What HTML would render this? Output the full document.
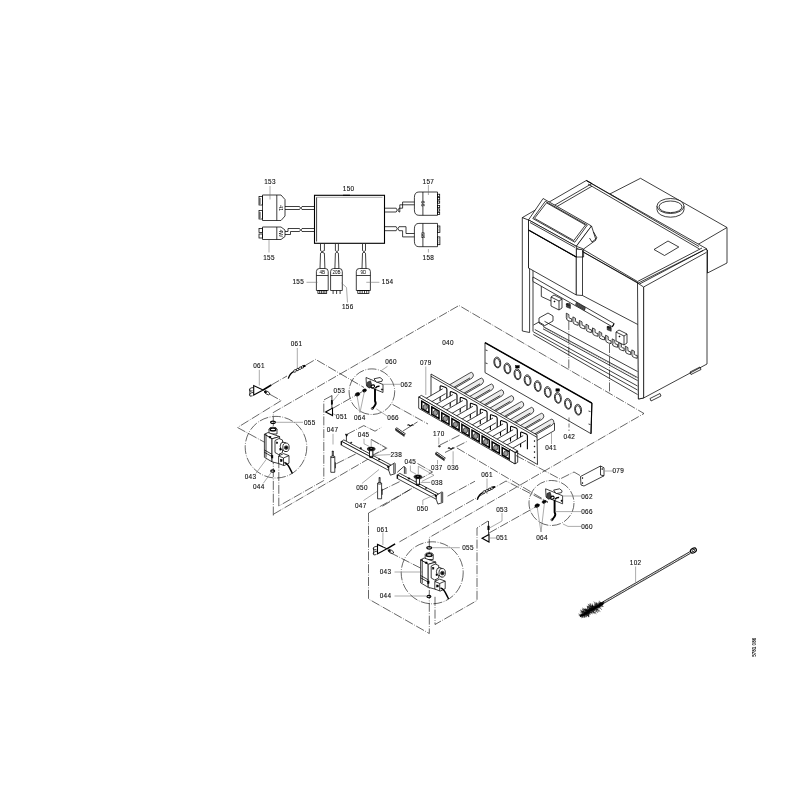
<!DOCTYPE html>
<html><head><meta charset="utf-8"><style>
html,body{margin:0;padding:0;background:#fff;width:800px;height:800px;overflow:hidden}
svg{display:block;will-change:transform}
.s{fill:none;stroke:#000;stroke-width:.75}
.s2{fill:none;stroke:#000;stroke-width:1.1}
.s3{fill:none;stroke:#000;stroke-width:1.5}
.sf{fill:#fff;stroke:#000;stroke-width:.75}
.sg{fill:none;stroke:#666;stroke-width:.55}
.k{fill:#000;stroke:#000;stroke-width:.5}
.tb{fill:#ececec;stroke:#000;stroke-width:.7}
.wf{fill:#fff;stroke:#000;stroke-width:1.1}
.ig{fill:#999;stroke:#000;stroke-width:.6}
.kg{fill:#444;stroke:#000;stroke-width:.5}
.d{fill:none;stroke:#000;stroke-width:.6;stroke-dasharray:9 1.5 .8 1.5}
.d2{fill:none;stroke:#000;stroke-width:.55;stroke-dasharray:4 2}
.t{font-family:"Liberation Sans",sans-serif;font-size:6.4px;letter-spacing:.35px;fill:#111;stroke:#111;stroke-width:.12px}
.ts{font-family:"Liberation Sans",sans-serif;font-size:4.5px;fill:#000}
</style></head><body>
<svg width="800" height="800" viewBox="0 0 800 800">
<path d="M273.3,515.5 L273.3,412.5 L459.0,305.5 L644.0,413.5 L429.3,537.5 L429.3,633.5" class="d"/>
<path d="M568.8,321.0 L568.8,368.5" class="d"/>
<path d="M609.5,344.0 L609.5,393.0" class="d"/>
<path d="M271.3,385.0 L287.0,376.0" class="d"/>
<path d="M306.0,365.0 L315.6,359.4 L364.0,387.5" class="d"/>
<path d="M392.5,404.4 L428.0,424.0" class="d"/>
<path d="M331.9,408.8 L366.0,389.5" class="d"/>
<path d="M331.9,395.6 L323.8,400.0 L323.8,480.5 L278.8,506.0 L278.8,464.0" class="d"/>
<path d="M273.5,514.2 L370.0,458.0" class="d"/>
<path d="M270.0,394.4 L281.2,400.6 L237.5,427.5 L265.0,442.5" class="d"/>
<path d="M368.5,513.0 L368.5,599.0 L429.3,633.5" class="d"/>
<path d="M368.5,513.0 L413.8,487.5" class="d"/>
<path d="M435.0,596.8 L435.0,624.5 L477.0,600.5 L477.0,528.0 L488.0,521.0" class="d"/>
<path d="M390.0,552.5 L420.8,568.2" class="d"/>
<path d="M399.4,541.9 L506.0,481.0 L548.0,502.5" class="d"/>
<path d="M489.0,533.0 L540.0,504.5" class="d"/>
<path d="M457.0,448.0 L548.0,502.0" class="d"/>
<path d="M516.0,455.5 L560.0,479.0 L574.0,472.0 L580.0,475.5" class="d"/>
<path d="M447.5,496.2 L475.0,481.2" class="d"/>
<path d="M380.0,491.2 L401.0,481.0" class="d"/>
<path d="M382.5,506.2 L411.2,488.8" class="d"/>
<path d="M440.0,445.0 L460.0,435.0" class="d"/>
<path d="M445.0,452.5 L467.5,441.2" class="d"/>
<path d="M403.0,431.0 L417.5,421.9" class="d"/>
<path d="M336.2,463.8 L361.2,451.2" class="d"/>
<path d="M346.9,434.4 L363.8,425.6 L375.0,431.2 L381.2,427.5" class="d"/>
<path d="M371.2,439.4 L386.2,448.1 L373.0,455.0" class="d"/>
<path d="M417.5,463.5 L432.5,472.0 L420.0,479.0" class="d"/>
<rect x="314.5" y="195.3" width="70.0" height="48.0" rx="0" class="s2"/>
<line x1="316.6" y1="197.3" x2="316.6" y2="241.5" class="s"/>
<line x1="316.6" y1="197.3" x2="382.5" y2="197.3" class="sg"/>
<line x1="343.0" y1="195.3" x2="350.0" y2="195.3" class="s2"/>
<text x="348.6" y="191.4" class="t" text-anchor="middle">150</text>
<path d="M262.5,195.0 L281.0,195.0 L285.0,199.5 L285.0,216.0 L281.0,220.5 L262.5,220.5 Z" class="s"/>
<line x1="276.8" y1="195.0" x2="276.8" y2="220.5" class="s"/>
<rect x="259.0" y="196.5" width="3.5" height="8.5" rx="0" class="s"/>
<rect x="259.0" y="210.5" width="3.5" height="8.5" rx="0" class="s"/>
<line x1="260.0" y1="198.0" x2="260.0" y2="204.0" class="s"/>
<line x1="260.0" y1="212.0" x2="260.0" y2="218.0" class="s"/>
<text x="0" y="0" class="ts" style="font-size:5.6px" transform="translate(279,208) rotate(90)" text-anchor="middle">41</text>
<path d="M285.0,206.5 L299.5,206.5" class="s"/>
<path d="M285.0,209.5 L299.5,209.5" class="s"/>
<path d="M299.5,206.5 L300.5,208.0 L299.5,209.5" class="s"/>
<path d="M302.0,206.5 L301.0,208.0 L302.0,209.5" class="s"/>
<path d="M302.0,206.5 L314.5,206.5" class="s"/>
<path d="M302.0,209.5 L314.5,209.5" class="s"/>
<text x="270.0" y="184.1" class="t" text-anchor="middle">153</text>
<line x1="270.0" y1="186.0" x2="270.0" y2="199.5" class="sg"/>
<path d="M262.5,227.0 L281.0,227.0 L285.0,230.0 L285.0,236.5 L281.0,239.5 L262.5,239.5 Z" class="s"/>
<line x1="276.8" y1="227.0" x2="276.8" y2="239.5" class="s"/>
<rect x="259.0" y="228.5" width="3.5" height="4.0" rx="0" class="s"/>
<rect x="259.0" y="234.0" width="3.5" height="4.0" rx="0" class="s"/>
<text x="0" y="0" class="ts" style="font-size:5.2px" transform="translate(279,233.3) rotate(90)" text-anchor="middle">4W</text>
<path d="M285.0,231.5 L288.0,231.5 L288.0,228.5 L299.5,228.5" class="s"/>
<path d="M285.0,234.5 L290.5,234.5 L290.5,231.5 L299.5,231.5" class="s"/>
<path d="M302.0,228.5 L314.5,228.5" class="s"/>
<path d="M302.0,231.5 L314.5,231.5" class="s"/>
<path d="M299.5,228.5 L300.5,230.0 L299.5,231.5" class="s"/>
<path d="M302.0,228.5 L301.0,230.0 L302.0,231.5" class="s"/>
<text x="269.0" y="259.6" class="t" text-anchor="middle">155</text>
<line x1="269.0" y1="240.0" x2="269.0" y2="252.5" class="sg"/>
<path d="M437.5,192.0 L418.9,192.0 Q414.4,192.0 414.4,197.5 L414.4,209.8 Q414.4,215.3 418.9,215.3 L437.5,215.3 Z" class="sf"/>
<line x1="422.9" y1="192.0" x2="422.9" y2="215.3" class="s"/>
<text x="0" y="0" class="ts" style="font-size:5.6px" transform="translate(420.6,203.6) rotate(90)" text-anchor="middle">66</text>
<text x="428.4" y="183.6" class="t" text-anchor="middle">157</text>
<line x1="428.4" y1="185.0" x2="428.4" y2="195.0" class="sg"/>
<path d="M437.5,223.4 L418.9,223.4 Q414.4,223.4 414.4,228.9 L414.4,241.2 Q414.4,246.7 418.9,246.7 L437.5,246.7 Z" class="sf"/>
<line x1="422.9" y1="223.4" x2="422.9" y2="246.7" class="s"/>
<text x="0" y="0" class="ts" style="font-size:5.6px" transform="translate(420.6,235.0) rotate(90)" text-anchor="middle">68</text>
<text x="428.4" y="259.6" class="t" text-anchor="middle">158</text>
<line x1="428.4" y1="249.0" x2="428.4" y2="252.5" class="sg"/>
<rect x="437.5" y="194.2" width="2.2" height="2.2" rx="0" class="s"/>
<rect x="437.5" y="197.6" width="2.2" height="2.2" rx="0" class="s"/>
<rect x="437.5" y="201.0" width="2.2" height="2.2" rx="0" class="s"/>
<rect x="437.5" y="205.5" width="2.2" height="2.2" rx="0" class="s"/>
<rect x="437.5" y="208.9" width="2.2" height="2.2" rx="0" class="s"/>
<rect x="437.5" y="212.3" width="2.2" height="2.2" rx="0" class="s"/>
<rect x="437.5" y="226.0" width="2.4" height="6.4" rx="0" class="s"/>
<line x1="437.5" y1="227.6" x2="439.9" y2="227.6" class="sg"/>
<line x1="437.5" y1="229.2" x2="439.9" y2="229.2" class="sg"/>
<line x1="437.5" y1="230.8" x2="439.9" y2="230.8" class="sg"/>
<rect x="437.5" y="236.9" width="2.4" height="7.8" rx="0" class="s"/>
<line x1="437.5" y1="238.8" x2="439.9" y2="238.8" class="sg"/>
<line x1="437.5" y1="240.8" x2="439.9" y2="240.8" class="sg"/>
<line x1="437.5" y1="242.8" x2="439.9" y2="242.8" class="sg"/>
<path d="M384.6,208.2 L396.2,208.2" class="s"/>
<path d="M384.6,212.0 L396.2,212.0" class="s"/>
<path d="M396.2,208.2 L397.2,210.1 L396.2,212.0" class="s"/>
<path d="M399.0,208.2 L398.0,210.1 L399.0,212.0" class="s"/>
<path d="M399.0,212.0 L399.8,212.0 L399.8,204.8 L414.4,204.8" class="s"/>
<path d="M399.0,208.2 L402.6,208.2 L402.6,202.0 L414.4,202.0" class="s"/>
<path d="M384.6,226.7 L396.2,226.7" class="s"/>
<path d="M384.6,230.7 L396.2,230.7" class="s"/>
<path d="M396.2,226.7 L397.2,228.7 L396.2,230.7" class="s"/>
<path d="M399.0,226.7 L398.0,228.7 L399.0,230.7" class="s"/>
<path d="M399.0,226.7 L406.0,226.7 L406.0,233.5 L414.4,233.5" class="s"/>
<path d="M399.0,230.7 L402.6,230.7 L402.6,236.9 L414.4,236.9" class="s"/>
<line x1="320.5" y1="244.0" x2="320.5" y2="250.6" class="s"/>
<line x1="324.4" y1="244.0" x2="324.4" y2="250.6" class="s"/>
<path d="M320.5,250.6 L322.0,251.6 L324.4,250.6" class="s"/>
<path d="M320.5,253.2 L322.0,252.2 L324.4,253.2" class="s"/>
<line x1="320.5" y1="253.2" x2="320.0" y2="268.5" class="s"/>
<line x1="324.4" y1="253.2" x2="324.9" y2="268.5" class="s"/>
<line x1="335.4" y1="244.0" x2="335.4" y2="250.6" class="s"/>
<line x1="338.4" y1="244.0" x2="338.4" y2="250.6" class="s"/>
<path d="M335.4,250.6 L336.9,251.6 L338.4,250.6" class="s"/>
<path d="M335.4,253.2 L336.9,252.2 L338.4,253.2" class="s"/>
<line x1="335.4" y1="253.2" x2="334.9" y2="268.5" class="s"/>
<line x1="338.4" y1="253.2" x2="338.9" y2="268.5" class="s"/>
<line x1="362.5" y1="244.0" x2="362.5" y2="250.6" class="s"/>
<line x1="365.5" y1="244.0" x2="365.5" y2="250.6" class="s"/>
<path d="M362.5,250.6 L364.0,251.6 L365.5,250.6" class="s"/>
<path d="M362.5,253.2 L364.0,252.2 L365.5,253.2" class="s"/>
<line x1="362.5" y1="253.2" x2="362.0" y2="268.5" class="s"/>
<line x1="365.5" y1="253.2" x2="366.0" y2="268.5" class="s"/>
<path d="M316.4,290.5 L316.4,271.5 Q316.4,268.5 319.4,268.5 L325.2,268.5 Q328.2,268.5 328.2,271.5 L328.2,290.5 Z" class="s"/>
<line x1="316.4" y1="275.5" x2="328.2" y2="275.5" class="s"/>
<text x="322.3" y="273.5" class="ts" text-anchor="middle">4B</text>
<rect x="317.9" y="290.5" width="8.8" height="3.0" rx="0" class="s"/>
<line x1="319.7" y1="290.5" x2="319.7" y2="293.5" class="s"/>
<line x1="321.4" y1="290.5" x2="321.4" y2="293.5" class="s"/>
<line x1="323.2" y1="290.5" x2="323.2" y2="293.5" class="s"/>
<line x1="324.9" y1="290.5" x2="324.9" y2="293.5" class="s"/>
<path d="M330.6,290.5 L330.6,271.5 Q330.6,268.5 333.6,268.5 L339.3,268.5 Q342.3,268.5 342.3,271.5 L342.3,290.5 Z" class="s"/>
<line x1="330.6" y1="275.5" x2="342.3" y2="275.5" class="s"/>
<text x="336.5" y="273.5" class="ts" text-anchor="middle">20B</text>
<line x1="333.1" y1="290.5" x2="333.1" y2="294.0" class="s"/>
<line x1="336.6" y1="290.5" x2="336.6" y2="294.0" class="s"/>
<line x1="340.1" y1="290.5" x2="340.1" y2="294.0" class="s"/>
<path d="M356.3,290.5 L356.3,271.5 Q356.3,268.5 359.3,268.5 L367.4,268.5 Q370.4,268.5 370.4,271.5 L370.4,290.5 Z" class="s"/>
<line x1="356.3" y1="275.5" x2="370.4" y2="275.5" class="s"/>
<text x="363.4" y="273.5" class="ts" text-anchor="middle">9D</text>
<rect x="357.8" y="290.5" width="11.1" height="3.0" rx="0" class="s"/>
<line x1="360.0" y1="290.5" x2="360.0" y2="293.5" class="s"/>
<line x1="362.2" y1="290.5" x2="362.2" y2="293.5" class="s"/>
<line x1="364.5" y1="290.5" x2="364.5" y2="293.5" class="s"/>
<line x1="366.7" y1="290.5" x2="366.7" y2="293.5" class="s"/>
<text x="298.3" y="284.4" class="t" text-anchor="middle">155</text>
<line x1="306.5" y1="282.3" x2="317.5" y2="282.3" class="sg"/>
<text x="387.6" y="284.4" class="t" text-anchor="middle">154</text>
<line x1="366.3" y1="282.3" x2="379.4" y2="282.3" class="sg"/>
<text x="347.8" y="309.1" class="t" text-anchor="middle">156</text>
<path d="M341.5,283.0 L346.5,287.5 L347.5,302.5" class="sg"/>
<path d="M640.5,178.3 L727.0,227.5 L727.0,263.0 L707.5,273.0 L707.5,250.0 L697.0,245.0 L609.8,194.0 Z" class="sf"/>
<line x1="697.0" y1="245.0" x2="727.0" y2="227.5" class="s"/>
<path d="M657,206 L657,209.7 A13.5,7.5 0 0 0 684,209.7 L684,206" class="sf"/>
<ellipse cx="670.5" cy="206.0" rx="13.5" ry="7.5" transform="rotate(0 670.5 206.0)" class="sf"/>
<ellipse cx="670.5" cy="206.8" rx="11.5" ry="5.8" transform="rotate(0 670.5 206.8)" class="s"/>
<path d="M522.3,217.6 L586.3,180.5 L707.0,249.0 L643.6,287.0 L638.4,283.0 Z" class="sf"/>
<line x1="586.3" y1="180.5" x2="699.0" y2="246.5" class="s"/>
<line x1="588.0" y1="184.0" x2="699.5" y2="249.0" class="s"/>
<line x1="586.3" y1="180.5" x2="592.0" y2="183.5" class="s"/>
<line x1="592.0" y1="183.5" x2="548.0" y2="209.0" class="s"/>
<line x1="592.0" y1="186.2" x2="553.0" y2="208.8" class="s"/>
<path d="M654.0,249.5 L668.0,241.0 L678.8,247.0 L664.5,255.5 Z" class="s"/>
<path d="M638.4,283.0 L706.0,249.0 L707.0,250.0 L707.0,364.0 L643.6,398.0 L638.4,399.0 Z" class="sf"/>
<line x1="643.6" y1="287.0" x2="706.4" y2="252.4" class="s"/>
<line x1="643.6" y1="287.0" x2="643.6" y2="398.0" class="s"/>
<line x1="637.5" y1="281.5" x2="702.0" y2="248.0" class="s"/>
<line x1="639.0" y1="284.3" x2="703.0" y2="250.5" class="s"/>
<path d="M650.0,398.5 L660.0,393.5 L661.0,396.0 L651.0,401.0 Z" class="s"/>
<path d="M690.0,372.0 L700.0,367.0 L701.0,369.5 L691.0,374.5 Z" class="s"/>
<line x1="583.6" y1="249.7" x2="637.5" y2="281.5" class="s"/>
<line x1="583.6" y1="252.3" x2="638.4" y2="283.5" class="s"/>
<path d="M522.3,217.6 L528.5,220.0 L528.5,268.0 L529.6,268.5 L529.6,332.5 L522.3,331.0 Z" class="sf"/>
<line x1="533.0" y1="270.0" x2="533.0" y2="331.5" class="s"/>
<path d="M528.5,230.0 L576.3,257.0 L576.3,295.0 L528.5,268.0 Z" class="sf"/>
<path d="M576.3,249.0 L582.5,249.7 L582.5,295.5 L576.3,295.0 Z" class="sf"/>
<line x1="582.5" y1="295.5" x2="637.8" y2="324.5" class="s"/>
<path d="M543.1,198.5 L591.5,226.0 L576.3,246.3 L528.5,219.9 Z" class="sf"/>
<path d="M545.3,201.3 L587.3,225.1 L574.8,242.2 L532.8,218.5 Z" class="s"/>
<path d="M546.5,202.8 L585.5,225.0 L573.8,240.5 L534.5,218.3 Z" class="s"/>
<path d="M528.5,219.9 L576.3,246.3 L576.3,257.0 L528.5,230.0 Z" class="sf"/>
<line x1="528.5" y1="230.0" x2="576.3" y2="257.0" class="s2"/>
<line x1="530.0" y1="222.5" x2="575.0" y2="247.5" class="s"/>
<path d="M591.5,226.0 L596.0,240.0 L583.6,249.0 L576.3,246.3 Z" class="sf"/>
<path d="M593.5,232.0 L597.0,238.0 L592.0,242.0 L589.5,238.0" class="s"/>
<line x1="583.6" y1="249.0" x2="583.6" y2="257.0" class="s"/>
<line x1="576.3" y1="257.0" x2="583.6" y2="257.0" class="s"/>
<path d="M541.3,286.0 L541.3,296.5 L551.0,301.0" class="s"/>
<line x1="544.5" y1="321.3" x2="637.5" y2="371.5" class="s"/>
<line x1="543.0" y1="326.5" x2="637.5" y2="377.5" class="s"/>
<line x1="543.0" y1="328.8" x2="637.5" y2="380.5" class="s"/>
<line x1="534.8" y1="329.5" x2="637.5" y2="386.0" class="s"/>
<line x1="533.3" y1="331.8" x2="637.5" y2="390.0" class="s"/>
<line x1="533.3" y1="334.5" x2="637.5" y2="394.5" class="s"/>
<line x1="545.0" y1="327.9" x2="546.0" y2="329.5" class="sg"/>
<line x1="547.3" y1="329.1" x2="548.3" y2="330.7" class="sg"/>
<line x1="549.6" y1="330.4" x2="550.6" y2="332.0" class="sg"/>
<line x1="551.9" y1="331.6" x2="552.9" y2="333.2" class="sg"/>
<line x1="554.2" y1="332.8" x2="555.2" y2="334.4" class="sg"/>
<line x1="556.5" y1="334.1" x2="557.5" y2="335.7" class="sg"/>
<line x1="558.8" y1="335.3" x2="559.8" y2="336.9" class="sg"/>
<line x1="561.1" y1="336.6" x2="562.1" y2="338.2" class="sg"/>
<line x1="563.4" y1="337.8" x2="564.4" y2="339.4" class="sg"/>
<line x1="565.7" y1="339.1" x2="566.7" y2="340.7" class="sg"/>
<line x1="568.0" y1="340.3" x2="569.0" y2="341.9" class="sg"/>
<line x1="570.3" y1="341.5" x2="571.3" y2="343.1" class="sg"/>
<line x1="572.6" y1="342.8" x2="573.6" y2="344.4" class="sg"/>
<line x1="574.9" y1="344.0" x2="575.9" y2="345.6" class="sg"/>
<line x1="577.2" y1="345.3" x2="578.2" y2="346.9" class="sg"/>
<line x1="579.5" y1="346.5" x2="580.5" y2="348.1" class="sg"/>
<line x1="581.8" y1="347.8" x2="582.8" y2="349.4" class="sg"/>
<line x1="584.1" y1="349.0" x2="585.1" y2="350.6" class="sg"/>
<line x1="586.4" y1="350.2" x2="587.4" y2="351.8" class="sg"/>
<line x1="588.7" y1="351.5" x2="589.7" y2="353.1" class="sg"/>
<line x1="591.0" y1="352.7" x2="592.0" y2="354.3" class="sg"/>
<line x1="593.3" y1="354.0" x2="594.3" y2="355.6" class="sg"/>
<line x1="595.6" y1="355.2" x2="596.6" y2="356.8" class="sg"/>
<line x1="597.9" y1="356.4" x2="598.9" y2="358.0" class="sg"/>
<line x1="600.2" y1="357.7" x2="601.2" y2="359.3" class="sg"/>
<line x1="602.5" y1="358.9" x2="603.5" y2="360.5" class="sg"/>
<line x1="604.8" y1="360.2" x2="605.8" y2="361.8" class="sg"/>
<line x1="607.1" y1="361.4" x2="608.1" y2="363.0" class="sg"/>
<line x1="609.4" y1="362.7" x2="610.4" y2="364.3" class="sg"/>
<line x1="611.7" y1="363.9" x2="612.7" y2="365.5" class="sg"/>
<line x1="614.0" y1="365.1" x2="615.0" y2="366.7" class="sg"/>
<line x1="616.3" y1="366.4" x2="617.3" y2="368.0" class="sg"/>
<line x1="618.6" y1="367.6" x2="619.6" y2="369.2" class="sg"/>
<line x1="620.9" y1="368.9" x2="621.9" y2="370.5" class="sg"/>
<line x1="623.2" y1="370.1" x2="624.2" y2="371.7" class="sg"/>
<line x1="625.5" y1="371.4" x2="626.5" y2="372.9" class="sg"/>
<line x1="627.8" y1="372.6" x2="628.8" y2="374.2" class="sg"/>
<line x1="630.1" y1="373.8" x2="631.1" y2="375.4" class="sg"/>
<line x1="632.4" y1="375.1" x2="633.4" y2="376.7" class="sg"/>
<line x1="634.7" y1="376.3" x2="635.7" y2="377.9" class="sg"/>
<path d="M539.0,318.0 L548.0,313.0 L553.0,316.0 L553.0,321.0 L544.0,326.0 L539.0,323.0 Z" class="s"/>
<path d="M533.5,325.0 L539.0,322.0 L544.0,325.0" class="s"/>
<path d="M566.3,313.2 L566.3,317.8 Q566.3,320.4 569.2,321.0 L571.7,321.6 L571.7,318.8 L569.9,318.4 Q568.9,318.2 568.9,316.8 L568.9,314.6 Z" class="sf"/>
<line x1="567.6" y1="314.2" x2="567.6" y2="318.7" class="sg"/>
<path d="M572.9,316.9 L572.9,321.5 Q572.9,324.1 575.8,324.7 L578.2,325.3 L578.2,322.5 L576.5,322.1 Q575.5,321.9 575.5,320.5 L575.5,318.3 Z" class="sf"/>
<line x1="574.1" y1="317.9" x2="574.1" y2="322.4" class="sg"/>
<path d="M579.4,320.5 L579.4,325.1 Q579.4,327.7 582.3,328.3 L584.8,328.9 L584.8,326.1 L583.0,325.7 Q582.0,325.5 582.0,324.1 L582.0,321.9 Z" class="sf"/>
<line x1="580.7" y1="321.5" x2="580.7" y2="326.0" class="sg"/>
<path d="M586.0,324.2 L586.0,328.8 Q586.0,331.4 588.9,332.0 L591.4,332.6 L591.4,329.8 L589.6,329.4 Q588.6,329.2 588.6,327.8 L588.6,325.6 Z" class="sf"/>
<line x1="587.2" y1="325.2" x2="587.2" y2="329.7" class="sg"/>
<path d="M592.5,327.9 L592.5,332.5 Q592.5,335.1 595.4,335.7 L597.9,336.3 L597.9,333.5 L596.1,333.1 Q595.1,332.9 595.1,331.5 L595.1,329.3 Z" class="sf"/>
<line x1="593.8" y1="328.9" x2="593.8" y2="333.4" class="sg"/>
<path d="M599.1,331.5 L599.1,336.1 Q599.1,338.7 602.0,339.3 L604.5,339.9 L604.5,337.1 L602.7,336.7 Q601.7,336.5 601.7,335.1 L601.7,332.9 Z" class="sf"/>
<line x1="600.4" y1="332.5" x2="600.4" y2="337.0" class="sg"/>
<path d="M605.6,335.2 L605.6,339.8 Q605.6,342.4 608.5,343.0 L611.0,343.6 L611.0,340.8 L609.2,340.4 Q608.2,340.2 608.2,338.8 L608.2,336.6 Z" class="sf"/>
<line x1="606.9" y1="336.2" x2="606.9" y2="340.7" class="sg"/>
<path d="M612.2,338.9 L612.2,343.5 Q612.2,346.1 615.1,346.7 L617.6,347.3 L617.6,344.5 L615.8,344.1 Q614.8,343.9 614.8,342.5 L614.8,340.3 Z" class="sf"/>
<line x1="613.5" y1="339.9" x2="613.5" y2="344.4" class="sg"/>
<path d="M618.7,342.5 L618.7,347.1 Q618.7,349.7 621.6,350.3 L624.1,350.9 L624.1,348.1 L622.3,347.7 Q621.3,347.5 621.3,346.1 L621.3,343.9 Z" class="sf"/>
<line x1="620.0" y1="343.5" x2="620.0" y2="348.0" class="sg"/>
<path d="M625.3,346.2 L625.3,350.8 Q625.3,353.4 628.2,354.0 L630.7,354.6 L630.7,351.8 L628.9,351.4 Q627.9,351.2 627.9,349.8 L627.9,347.6 Z" class="sf"/>
<line x1="626.6" y1="347.2" x2="626.6" y2="351.7" class="sg"/>
<path d="M631.8,349.9 L631.8,354.5 Q631.8,357.1 634.7,357.7 L637.2,358.3 L637.2,355.5 L635.4,355.1 Q634.4,354.9 634.4,353.5 L634.4,351.3 Z" class="sf"/>
<line x1="633.1" y1="350.9" x2="633.1" y2="355.4" class="sg"/>
<path d="M533.0,277.0 L614.1,323.6 L612.4,326.8 L533.0,281.5 Z" class="sf"/>
<line x1="612.4" y1="326.8" x2="614.1" y2="323.6" class="s2"/>
<path d="M576.2,302.3 L585.4,307.6 L584.6,310.4 L575.6,305.2 Z" class="kg"/>
<line x1="577.0" y1="302.8" x2="576.2" y2="305.6" class="sg"/>
<line x1="578.8" y1="303.9" x2="578.0" y2="306.7" class="sg"/>
<line x1="580.6" y1="304.9" x2="579.8" y2="307.7" class="sg"/>
<line x1="582.4" y1="305.9" x2="581.6" y2="308.8" class="sg"/>
<line x1="584.2" y1="307.0" x2="583.4" y2="309.8" class="sg"/>
<path d="M566.4,303.5 L570.4,305.0 L570.4,308.5 L566.4,307.0 Z" class="kg"/>
<ellipse cx="568.4" cy="304.3" rx="2.0" ry="0.8" transform="rotate(0 568.4 304.3)" class="s"/>
<path d="M607.2,326.3 L611.2,327.8 L611.2,331.3 L607.2,329.8 Z" class="kg"/>
<ellipse cx="609.2" cy="327.1" rx="2.0" ry="0.8" transform="rotate(0 609.2 327.1)" class="s"/>
<path d="M551.0,297.0 L554.0,295.0 L562.0,299.0 L562.0,308.0 L559.0,310.0 L551.0,306.0 Z" class="sf"/>
<line x1="551.0" y1="297.0" x2="559.0" y2="301.0" class="s"/>
<line x1="559.0" y1="301.0" x2="562.0" y2="299.0" class="s"/>
<line x1="559.0" y1="301.0" x2="559.0" y2="310.0" class="s"/>
<circle cx="554.5" cy="301.5" r="0.6" class="k"/>
<path d="M616.0,332.0 L619.0,330.0 L627.0,334.0 L627.0,343.0 L624.0,345.0 L616.0,341.0 Z" class="sf"/>
<line x1="616.0" y1="332.0" x2="624.0" y2="336.0" class="s"/>
<line x1="624.0" y1="336.0" x2="627.0" y2="334.0" class="s"/>
<line x1="624.0" y1="336.0" x2="624.0" y2="345.0" class="s"/>
<circle cx="619.5" cy="336.5" r="0.6" class="k"/>
<path d="M637.5,283.0 L643.6,287.0 L643.6,398.0 L638.4,399.0 Z" class="sf"/>
<path d="M485.0,342.7 L591.9,403.1 L591.0,433.7 L485.0,372.6 Z" class="sf"/>
<line x1="485.0" y1="342.7" x2="591.9" y2="403.1" class="s3"/>
<line x1="591.9" y1="403.1" x2="591.0" y2="433.7" class="s2"/>
<ellipse cx="497.3" cy="362.5" rx="3.4" ry="5.4" transform="rotate(-8 497.3 362.5)" class="s"/>
<ellipse cx="497.3" cy="362.8" rx="2.5" ry="4.4" transform="rotate(-8 497.3 362.8)" class="s"/>
<ellipse cx="507.4" cy="368.4" rx="3.4" ry="5.4" transform="rotate(-8 507.4 368.4)" class="s"/>
<ellipse cx="507.4" cy="368.7" rx="2.5" ry="4.4" transform="rotate(-8 507.4 368.7)" class="s"/>
<ellipse cx="517.5" cy="374.3" rx="3.4" ry="5.4" transform="rotate(-8 517.5 374.3)" class="s"/>
<ellipse cx="517.5" cy="374.6" rx="2.5" ry="4.4" transform="rotate(-8 517.5 374.6)" class="s"/>
<ellipse cx="527.6" cy="380.2" rx="3.4" ry="5.4" transform="rotate(-8 527.6 380.2)" class="s"/>
<ellipse cx="527.6" cy="380.5" rx="2.5" ry="4.4" transform="rotate(-8 527.6 380.5)" class="s"/>
<ellipse cx="537.7" cy="386.1" rx="3.4" ry="5.4" transform="rotate(-8 537.7 386.1)" class="s"/>
<ellipse cx="537.7" cy="386.4" rx="2.5" ry="4.4" transform="rotate(-8 537.7 386.4)" class="s"/>
<ellipse cx="547.8" cy="392.0" rx="3.4" ry="5.4" transform="rotate(-8 547.8 392.0)" class="s"/>
<ellipse cx="547.8" cy="392.3" rx="2.5" ry="4.4" transform="rotate(-8 547.8 392.3)" class="s"/>
<ellipse cx="557.9" cy="397.9" rx="3.4" ry="5.4" transform="rotate(-8 557.9 397.9)" class="s"/>
<ellipse cx="557.9" cy="398.2" rx="2.5" ry="4.4" transform="rotate(-8 557.9 398.2)" class="s"/>
<ellipse cx="568.0" cy="403.8" rx="3.4" ry="5.4" transform="rotate(-8 568.0 403.8)" class="s"/>
<ellipse cx="568.0" cy="404.1" rx="2.5" ry="4.4" transform="rotate(-8 568.0 404.1)" class="s"/>
<ellipse cx="578.1" cy="409.7" rx="3.4" ry="5.4" transform="rotate(-8 578.1 409.7)" class="s"/>
<ellipse cx="578.1" cy="410.0" rx="2.5" ry="4.4" transform="rotate(-8 578.1 410.0)" class="s"/>
<rect x="515.6" y="365.6" width="3.6" height="2.4" rx="0" class="k"/>
<rect x="555.9" y="388.8" width="3.6" height="2.4" rx="0" class="k"/>
<line x1="485.5" y1="350.0" x2="487.5" y2="350.6" class="s"/>
<line x1="485.5" y1="363.0" x2="487.5" y2="363.6" class="s"/>
<line x1="588.5" y1="411.0" x2="590.5" y2="411.6" class="s"/>
<line x1="588.5" y1="424.0" x2="590.5" y2="424.6" class="s"/>
<text x="569.4" y="439.1" class="t" text-anchor="middle">042</text>
<line x1="569.0" y1="417.5" x2="569.0" y2="431.0" class="d2"/>
<path d="M554.5,423.0 L554.5,430.5 L537.0,440.5" class="s"/>
<path d="M523.9,441.7 L552.4,425.0 A2.8,2.1 -60 0 0 549.6,420.2 L521.1,436.8 Z" class="tb"/>
<line x1="550.5" y1="424.7" x2="525.9" y2="439.1" class="s"/>
<path d="M513.8,435.8 L542.3,419.2 A2.8,2.1 -60 0 0 539.5,414.3 L511.0,431.0 Z" class="tb"/>
<line x1="540.4" y1="418.9" x2="515.8" y2="433.3" class="s"/>
<path d="M503.8,430.0 L532.3,413.3 A2.8,2.1 -60 0 0 529.4,408.5 L500.9,425.1 Z" class="tb"/>
<line x1="530.4" y1="413.0" x2="505.7" y2="427.4" class="s"/>
<path d="M493.7,424.1 L522.2,407.5 A2.8,2.1 -60 0 0 519.4,402.6 L490.9,419.3 Z" class="tb"/>
<line x1="520.3" y1="407.2" x2="495.7" y2="421.6" class="s"/>
<path d="M483.6,418.3 L512.2,401.6 A2.8,2.1 -60 0 0 509.3,396.8 L480.8,413.4 Z" class="tb"/>
<line x1="510.3" y1="401.3" x2="485.6" y2="415.7" class="s"/>
<path d="M473.6,412.4 L502.1,395.8 A2.8,2.1 -60 0 0 499.3,390.9 L470.8,407.6 Z" class="tb"/>
<line x1="500.2" y1="395.5" x2="475.6" y2="409.9" class="s"/>
<path d="M463.5,406.6 L492.0,389.9 A2.8,2.1 -60 0 0 489.2,385.1 L460.7,401.7 Z" class="tb"/>
<line x1="490.1" y1="389.6" x2="465.5" y2="404.0" class="s"/>
<path d="M453.5,400.7 L482.0,384.1 A2.8,2.1 -60 0 0 479.1,379.2 L450.6,395.9 Z" class="tb"/>
<line x1="480.1" y1="383.8" x2="455.4" y2="398.2" class="s"/>
<path d="M443.4,394.9 L471.9,378.2 A2.8,2.1 -60 0 0 469.1,373.4 L440.6,390.0 Z" class="tb"/>
<line x1="470.0" y1="377.9" x2="445.4" y2="392.3" class="s"/>
<path d="M431.0,374.0 L537.0,435.0 L537.5,464.5 L431.0,403.5 Z" class="sf"/>
<line x1="431.0" y1="376.3" x2="537.0" y2="437.3" class="s"/>
<path d="M440.1,401.0 L440.1,386.8 Q440.1,385.5 441.5,386.0 L445.7,387.6 Q446.9,388.2 446.9,389.5 L446.9,403.0" class="wf"/>
<line x1="440.6" y1="391.0" x2="439.1" y2="391.9" class="s"/>
<path d="M450.2,406.8 L450.2,392.6 Q450.2,391.3 451.6,391.8 L455.8,393.4 Q457.0,394.0 457.0,395.3 L457.0,408.8" class="wf"/>
<line x1="450.6" y1="396.9" x2="449.1" y2="397.8" class="s"/>
<path d="M460.2,412.6 L460.2,398.4 Q460.2,397.1 461.6,397.6 L465.8,399.2 Q467.0,399.8 467.0,401.1 L467.0,414.6" class="wf"/>
<line x1="460.7" y1="402.7" x2="459.2" y2="403.6" class="s"/>
<path d="M470.3,418.4 L470.3,404.2 Q470.3,402.9 471.7,403.4 L475.9,405.0 Q477.1,405.6 477.1,406.9 L477.1,420.4" class="wf"/>
<line x1="470.8" y1="408.6" x2="469.3" y2="409.5" class="s"/>
<path d="M480.3,424.2 L480.3,410.0 Q480.3,408.7 481.7,409.2 L485.9,410.8 Q487.1,411.4 487.1,412.7 L487.1,426.2" class="wf"/>
<line x1="480.8" y1="414.4" x2="479.3" y2="415.3" class="s"/>
<path d="M490.4,429.9 L490.4,415.7 Q490.4,414.4 491.8,414.9 L496.0,416.5 Q497.2,417.1 497.2,418.4 L497.2,431.9" class="wf"/>
<line x1="490.9" y1="420.3" x2="489.4" y2="421.2" class="s"/>
<path d="M500.5,435.7 L500.5,421.5 Q500.5,420.2 501.9,420.7 L506.1,422.3 Q507.3,422.9 507.3,424.2 L507.3,437.7" class="wf"/>
<line x1="500.9" y1="426.1" x2="499.4" y2="427.0" class="s"/>
<path d="M510.5,441.5 L510.5,427.3 Q510.5,426.0 511.9,426.5 L516.1,428.1 Q517.3,428.7 517.3,430.0 L517.3,443.5" class="wf"/>
<line x1="511.0" y1="432.0" x2="509.5" y2="432.9" class="s"/>
<path d="M520.6,447.3 L520.6,433.1 Q520.6,431.8 522.0,432.3 L526.2,433.9 Q527.4,434.5 527.4,435.8 L527.4,449.3" class="wf"/>
<line x1="521.1" y1="437.8" x2="519.6" y2="438.7" class="s"/>
<circle cx="534.5" cy="441.0" r="0.5" class="k"/>
<circle cx="534.5" cy="446.5" r="0.5" class="k"/>
<circle cx="534.5" cy="452.0" r="0.5" class="k"/>
<circle cx="534.5" cy="457.5" r="0.5" class="k"/>
<path d="M507.0,451.5 L526.0,440.4 L523.2,435.6 L504.2,446.6 Z" style="fill:#fff;stroke:none"/>
<path d="M507.0,451.5 L526.0,440.4 M523.2,435.6 L504.2,446.6" class="s"/>
<path d="M497.0,445.6 L516.0,434.5 L513.2,429.7 L494.1,440.8 Z" style="fill:#fff;stroke:none"/>
<path d="M497.0,445.6 L516.0,434.5 M513.2,429.7 L494.1,440.8" class="s"/>
<path d="M486.9,439.8 L505.9,428.7 L503.1,423.9 L484.1,434.9 Z" style="fill:#fff;stroke:none"/>
<path d="M486.9,439.8 L505.9,428.7 M503.1,423.9 L484.1,434.9" class="s"/>
<path d="M476.9,433.9 L495.9,422.8 L493.0,418.0 L474.0,429.1 Z" style="fill:#fff;stroke:none"/>
<path d="M476.9,433.9 L495.9,422.8 M493.0,418.0 L474.0,429.1" class="s"/>
<path d="M466.8,428.1 L485.8,417.0 L483.0,412.2 L464.0,423.2 Z" style="fill:#fff;stroke:none"/>
<path d="M466.8,428.1 L485.8,417.0 M483.0,412.2 L464.0,423.2" class="s"/>
<path d="M456.7,422.2 L475.7,411.1 L472.9,406.3 L453.9,417.4 Z" style="fill:#fff;stroke:none"/>
<path d="M456.7,422.2 L475.7,411.1 M472.9,406.3 L453.9,417.4" class="s"/>
<path d="M446.7,416.4 L465.7,405.3 L462.9,400.5 L443.8,411.5 Z" style="fill:#fff;stroke:none"/>
<path d="M446.7,416.4 L465.7,405.3 M462.9,400.5 L443.8,411.5" class="s"/>
<path d="M436.6,410.5 L455.6,399.4 L452.8,394.6 L433.8,405.7 Z" style="fill:#fff;stroke:none"/>
<path d="M436.6,410.5 L455.6,399.4 M452.8,394.6 L433.8,405.7" class="s"/>
<path d="M426.6,404.7 L445.6,393.6 L442.7,388.8 L423.7,399.8 Z" style="fill:#fff;stroke:none"/>
<path d="M426.6,404.7 L445.6,393.6 M442.7,388.8 L423.7,399.8" class="s"/>
<path d="M418.7,397.0 L421.4,395.4 L517.7,451.0 L515.0,452.6 Z" class="sf"/>
<path d="M418.7,397.0 L515.0,452.6 L515.0,463.9 L418.7,408.3 Z" class="sf"/>
<path d="M421.7,401.2 L428.9,405.4 L428.9,412.7 L421.7,408.6 Z" class="s3"/>
<ellipse cx="425.3" cy="407.1" rx="2.2" ry="2.6" transform="rotate(0 425.3 407.1)" class="ig"/>
<path d="M431.8,407.0 L439.0,411.2 L439.0,418.5 L431.8,414.4 Z" class="s3"/>
<ellipse cx="435.4" cy="412.9" rx="2.2" ry="2.6" transform="rotate(0 435.4 412.9)" class="ig"/>
<path d="M441.8,412.8 L449.0,417.0 L449.0,424.3 L441.8,420.2 Z" class="s3"/>
<ellipse cx="445.4" cy="418.7" rx="2.2" ry="2.6" transform="rotate(0 445.4 418.7)" class="ig"/>
<path d="M451.9,418.6 L459.1,422.8 L459.1,430.1 L451.9,426.0 Z" class="s3"/>
<ellipse cx="455.5" cy="424.5" rx="2.2" ry="2.6" transform="rotate(0 455.5 424.5)" class="ig"/>
<path d="M461.9,424.4 L469.1,428.6 L469.1,435.9 L461.9,431.8 Z" class="s3"/>
<ellipse cx="465.5" cy="430.3" rx="2.2" ry="2.6" transform="rotate(0 465.5 430.3)" class="ig"/>
<path d="M472.0,430.2 L479.2,434.4 L479.2,441.7 L472.0,437.6 Z" class="s3"/>
<ellipse cx="475.6" cy="436.1" rx="2.2" ry="2.6" transform="rotate(0 475.6 436.1)" class="ig"/>
<path d="M482.1,436.0 L489.3,440.2 L489.3,447.5 L482.1,443.4 Z" class="s3"/>
<ellipse cx="485.7" cy="441.9" rx="2.2" ry="2.6" transform="rotate(0 485.7 441.9)" class="ig"/>
<path d="M492.1,441.8 L499.3,446.0 L499.3,453.3 L492.1,449.2 Z" class="s3"/>
<ellipse cx="495.7" cy="447.7" rx="2.2" ry="2.6" transform="rotate(0 495.7 447.7)" class="ig"/>
<path d="M502.2,447.6 L509.4,451.8 L509.4,459.1 L502.2,455.0 Z" class="s3"/>
<ellipse cx="505.8" cy="453.5" rx="2.2" ry="2.6" transform="rotate(0 505.8 453.5)" class="ig"/>
<path d="M509.5,449.4 L515.0,452.6 L515.0,463.9 L509.5,460.7 Z" class="sf"/>
<path d="M515.0,452.6 L517.7,451.0 L517.7,462.3 L515.0,463.9" class="s"/>
<text x="551.0" y="449.6" class="t" text-anchor="middle">041</text>
<line x1="551.5" y1="432.0" x2="551.5" y2="444.0" class="sg"/>
<path d="M253.7,385.6 L253.7,395.0 L263.1,390.0 Z" class="s2"/>
<path d="M253.7,387.5 L250.6,388.0 Q248.6,389.5 250.1,391.2 L252.6,390.8" class="s"/>
<path d="M253.7,392.3 L250.6,393.0 Q248.6,394.5 250.1,396.2 L252.6,395.8" class="s"/>
<line x1="249.8" y1="388.7" x2="249.8" y2="395.5" class="s"/>
<line x1="263.1" y1="390.0" x2="271.3" y2="385.0" class="s3"/>
<ellipse cx="267.1" cy="392.8" rx="3.0" ry="1.4" transform="rotate(30 267.1 392.8)" class="sf"/>
<ellipse cx="265.6" cy="392.0" rx="1.2" ry="0.9" transform="rotate(30 265.6 392.0)" class="k"/>
<path d="M288.3,378.6 Q289.9,373.4 293.6,371.6" class="s3" style="stroke-width:1.3"/>
<line x1="293.6" y1="371.6" x2="305.4" y2="365.5" class="s3"/>
<ellipse cx="295.0" cy="370.9" rx="1.5" ry="1.1" transform="rotate(-28 295.0 370.9)" class="sf"/>
<ellipse cx="297.6" cy="369.5" rx="1.5" ry="1.1" transform="rotate(-28 297.6 369.5)" class="sf"/>
<ellipse cx="300.2" cy="368.2" rx="1.5" ry="1.1" transform="rotate(-28 300.2 368.2)" class="sf"/>
<ellipse cx="302.8" cy="366.8" rx="1.5" ry="1.1" transform="rotate(-28 302.8 366.8)" class="sf"/>
<line x1="303.0" y1="366.7" x2="305.4" y2="365.5" class="s3"/>
<text x="296.5" y="346.4" class="t" text-anchor="middle">061</text>
<line x1="297.3" y1="348.0" x2="297.3" y2="368.0" class="sg"/>
<text x="259.0" y="368.1" class="t" text-anchor="middle">061</text>
<line x1="259.3" y1="369.8" x2="259.3" y2="385.5" class="sg"/>
<circle cx="276.0" cy="447.2" r="30.8" class="d"/>
<ellipse cx="273.0" cy="422.3" rx="2.4" ry="1.2" transform="rotate(0 273.0 422.3)" class="s2"/>
<path d="M269.0,429.2 L269.0,434.0 L277.0,434.0 L277.0,429.2" class="sf"/>
<ellipse cx="273.0" cy="429.2" rx="4.0" ry="2.0" transform="rotate(0 273.0 429.2)" class="sf"/>
<ellipse cx="273.0" cy="429.4" rx="2.8" ry="1.3" transform="rotate(0 273.0 429.4)" class="s2"/>
<path d="M264.4,434.3 L268.0,432.5 L279.6,436.6 L272.0,438.8 Z" class="sf"/>
<path d="M264.4,434.3 L272.0,438.8 L272.0,461.8 L264.4,457.3 Z" class="sf"/>
<path d="M272.0,438.8 L279.6,436.6 L279.6,463.8 L272.0,461.8 Z" class="sf"/>
<line x1="264.4" y1="450.0" x2="272.0" y2="454.3" class="s"/>
<line x1="264.4" y1="452.3" x2="272.0" y2="456.6" class="s"/>
<line x1="266.0" y1="433.5" x2="266.0" y2="457.5" class="s"/>
<path d="M275.0,440.5 L279.0,438.5 L282.5,440.0 L282.5,452.5 L278.5,454.5 L275.0,452.5 Z" class="sf"/>
<path d="M283.2,442.2 L286.0,443.0 L286.0,451.6 L283.2,450.2 Z" class="sf"/>
<ellipse cx="283.2" cy="446.2" rx="3.0" ry="4.0" transform="rotate(0 283.2 446.2)" class="sf"/>
<ellipse cx="286.0" cy="447.3" rx="3.2" ry="4.3" transform="rotate(0 286.0 447.3)" class="sf"/>
<circle cx="286.2" cy="447.6" r="1.9" class="kg"/>
<circle cx="286.2" cy="447.6" r="0.8" class="k"/>
<rect x="276.5" y="442.0" width="1.2" height="1.6" rx="0" class="k"/>
<rect x="279.8" y="448.5" width="1.2" height="1.6" rx="0" class="k"/>
<path d="M278.6,456.0 L283.5,453.6 L289.0,455.6 L289.0,463.2 L284.0,465.6 L278.6,463.5 Z" class="sf"/>
<line x1="283.5" y1="458.0" x2="289.0" y2="455.6" class="s"/>
<line x1="283.5" y1="458.0" x2="283.5" y2="465.3" class="s"/>
<line x1="278.6" y1="456.0" x2="283.5" y2="458.0" class="s"/>
<rect x="280.5" y="459.5" width="1.6" height="2.0" rx="0" class="k"/>
<rect x="271.5" y="455.5" width="1.4" height="2.5" rx="0" class="k"/>
<rect x="269.5" y="436.5" width="1.4" height="1.4" rx="0" class="k"/>
<path d="M284.3,462.6 C287.6,463.2 289.0,466.5 292.4,473.5" class="s3"/>
<ellipse cx="272.7" cy="471.1" rx="2.0" ry="1.2" transform="rotate(0 272.7 471.1)" class="s2"/>
<text x="309.8" y="424.6" class="t" text-anchor="middle">055</text>
<line x1="275.5" y1="422.3" x2="303.0" y2="422.3" class="sg"/>
<text x="250.5" y="479.4" class="t" text-anchor="middle">043</text>
<line x1="255.8" y1="473.5" x2="266.3" y2="459.3" class="sg"/>
<text x="258.8" y="488.8" class="t" text-anchor="middle">044</text>
<line x1="263.3" y1="483.3" x2="271.5" y2="472.0" class="sg"/>
<circle cx="432.2" cy="572.8" r="31.0" class="d"/>
<ellipse cx="429.2" cy="547.8" rx="2.4" ry="1.2" transform="rotate(0 429.2 547.8)" class="s2"/>
<path d="M425.2,554.7 L425.2,559.5 L433.2,559.5 L433.2,554.7" class="sf"/>
<ellipse cx="429.2" cy="554.7" rx="4.0" ry="2.0" transform="rotate(0 429.2 554.7)" class="sf"/>
<ellipse cx="429.2" cy="554.9" rx="2.8" ry="1.3" transform="rotate(0 429.2 554.9)" class="s2"/>
<path d="M420.6,559.8 L424.2,558.0 L435.8,562.1 L428.2,564.3 Z" class="sf"/>
<path d="M420.6,559.8 L428.2,564.3 L428.2,587.3 L420.6,582.8 Z" class="sf"/>
<path d="M428.2,564.3 L435.8,562.1 L435.8,589.3 L428.2,587.3 Z" class="sf"/>
<line x1="420.6" y1="575.5" x2="428.2" y2="579.8" class="s"/>
<line x1="420.6" y1="577.8" x2="428.2" y2="582.1" class="s"/>
<line x1="422.2" y1="559.0" x2="422.2" y2="583.0" class="s"/>
<path d="M431.2,566.0 L435.2,564.0 L438.7,565.5 L438.7,578.0 L434.7,580.0 L431.2,578.0 Z" class="sf"/>
<path d="M439.4,567.7 L442.2,568.5 L442.2,577.1 L439.4,575.7 Z" class="sf"/>
<ellipse cx="439.4" cy="571.7" rx="3.0" ry="4.0" transform="rotate(0 439.4 571.7)" class="sf"/>
<ellipse cx="442.2" cy="572.8" rx="3.2" ry="4.3" transform="rotate(0 442.2 572.8)" class="sf"/>
<circle cx="442.4" cy="573.1" r="1.9" class="kg"/>
<circle cx="442.4" cy="573.1" r="0.8" class="k"/>
<rect x="432.7" y="567.5" width="1.2" height="1.6" rx="0" class="k"/>
<rect x="436.0" y="574.0" width="1.2" height="1.6" rx="0" class="k"/>
<path d="M434.8,581.5 L439.7,579.1 L445.2,581.1 L445.2,588.7 L440.2,591.1 L434.8,589.0 Z" class="sf"/>
<line x1="439.7" y1="583.5" x2="445.2" y2="581.1" class="s"/>
<line x1="439.7" y1="583.5" x2="439.7" y2="590.8" class="s"/>
<line x1="434.8" y1="581.5" x2="439.7" y2="583.5" class="s"/>
<rect x="436.7" y="585.0" width="1.6" height="2.0" rx="0" class="k"/>
<rect x="427.7" y="581.0" width="1.4" height="2.5" rx="0" class="k"/>
<rect x="425.7" y="562.0" width="1.4" height="1.4" rx="0" class="k"/>
<path d="M440.5,588.1 C443.8,588.7 445.2,592.0 448.6,599.0" class="s3"/>
<ellipse cx="428.9" cy="596.6" rx="2.0" ry="1.2" transform="rotate(0 428.9 596.6)" class="s2"/>
<text x="468.0" y="549.8" class="t" text-anchor="middle">055</text>
<line x1="431.7" y1="547.7" x2="459.8" y2="547.7" class="sg"/>
<text x="385.5" y="574.1" class="t" text-anchor="middle">043</text>
<line x1="394.5" y1="572.0" x2="423.0" y2="572.0" class="sg"/>
<text x="385.5" y="598.1" class="t" text-anchor="middle">044</text>
<line x1="394.5" y1="596.0" x2="426.0" y2="596.0" class="sg"/>
<path d="M377.5,544.4 L377.5,553.8 L386.9,548.8 Z" class="s2"/>
<path d="M377.5,546.2 L374.4,546.8 Q372.4,548.2 373.9,550.0 L376.4,549.5" class="s"/>
<path d="M377.5,551.0 L374.4,551.8 Q372.4,553.2 373.9,555.0 L376.4,554.5" class="s"/>
<line x1="373.6" y1="547.5" x2="373.6" y2="554.2" class="s"/>
<line x1="386.9" y1="548.8" x2="395.1" y2="543.8" class="s3"/>
<ellipse cx="390.9" cy="551.5" rx="3.0" ry="1.4" transform="rotate(30 390.9 551.5)" class="sf"/>
<ellipse cx="389.4" cy="550.8" rx="1.2" ry="0.9" transform="rotate(30 389.4 550.8)" class="k"/>
<path d="M477.3,499.8 Q478.9,494.5 482.7,492.7" class="s3" style="stroke-width:1.3"/>
<line x1="482.7" y1="492.7" x2="494.8" y2="486.6" class="s3"/>
<ellipse cx="484.2" cy="492.0" rx="1.5" ry="1.1" transform="rotate(-28 484.2 492.0)" class="sf"/>
<ellipse cx="486.8" cy="490.7" rx="1.5" ry="1.1" transform="rotate(-28 486.8 490.7)" class="sf"/>
<ellipse cx="489.5" cy="489.3" rx="1.5" ry="1.1" transform="rotate(-28 489.5 489.3)" class="sf"/>
<ellipse cx="492.1" cy="488.0" rx="1.5" ry="1.1" transform="rotate(-28 492.1 488.0)" class="sf"/>
<line x1="492.4" y1="487.8" x2="494.8" y2="486.6" class="s3"/>
<text x="382.5" y="531.9" class="t" text-anchor="middle">061</text>
<line x1="382.9" y1="532.5" x2="382.9" y2="545.0" class="sg"/>
<text x="487.0" y="477.1" class="t" text-anchor="middle">061</text>
<line x1="487.0" y1="478.5" x2="487.0" y2="494.0" class="sg"/>
<circle cx="371.9" cy="391.7" r="22.8" class="d"/>
<path d="M366.0,377.5 L383.0,384.5 L383.0,392.5 L366.5,385.8 Z" class="sf"/>
<path d="M374.0,378.8 L380.0,377.5 L382.5,379.5 L382.0,381.3 L376.5,382.3 Z" class="sf"/>
<path d="M367.3,382.2 L370.5,380.8 L372.0,385.5 L369.5,388.2 L367.0,386.5 Z" class="kg"/>
<ellipse cx="372.8" cy="386.4" rx="1.8" ry="1.4" transform="rotate(-20 372.8 386.4)" class="s2"/>
<ellipse cx="364.5" cy="390.5" rx="2.0" ry="1.5" transform="rotate(-20 364.5 390.5)" class="k"/>
<ellipse cx="357.5" cy="394.3" rx="2.3" ry="1.7" transform="rotate(-20 357.5 394.3)" class="k"/>
<path d="M375.0,388.5 L375.0,401.0 Q376.5,403.5 374.8,405.5 Q373.5,407.5 372.5,408.5" class="s3" style="stroke-width:1.9"/>
<circle cx="372.3" cy="408.5" r="1.0" class="s"/>
<path d="M375.5,388.0 Q377.0,386.0 379.5,386.3" class="s3"/>
<circle cx="382.0" cy="389.5" r="0.7" class="k"/>
<text x="391.0" y="364.0" class="t" text-anchor="middle">060</text>
<path d="M381.3,370.6 L387.5,366.3" class="sg"/>
<text x="406.3" y="386.9" class="t" text-anchor="middle">062</text>
<line x1="382.5" y1="384.3" x2="400.0" y2="384.3" class="sg"/>
<text x="393.1" y="420.2" class="t" text-anchor="middle">066</text>
<path d="M376.3,408.8 L387.5,416.3" class="sg"/>
<text x="359.8" y="419.6" class="t" text-anchor="middle">064</text>
<path d="M356.8,394.5 L360.0,412.5 L364.5,391.0" class="sg"/>
<circle cx="551.5" cy="503.0" r="22.5" class="d"/>
<path d="M545.6,488.8 L562.6,495.8 L562.6,503.8 L546.1,497.1 Z" class="sf"/>
<path d="M553.6,490.1 L559.6,488.8 L562.1,490.8 L561.6,492.6 L556.1,493.6 Z" class="sf"/>
<path d="M546.9,493.5 L550.1,492.1 L551.6,496.8 L549.1,499.5 L546.6,497.8 Z" class="kg"/>
<ellipse cx="552.4" cy="497.7" rx="1.8" ry="1.4" transform="rotate(-20 552.4 497.7)" class="s2"/>
<ellipse cx="544.1" cy="501.8" rx="2.0" ry="1.5" transform="rotate(-20 544.1 501.8)" class="k"/>
<ellipse cx="537.1" cy="505.6" rx="2.3" ry="1.7" transform="rotate(-20 537.1 505.6)" class="k"/>
<path d="M554.6,499.8 L554.6,512.3 Q556.1,514.8 554.4,516.8 Q553.1,518.8 552.1,519.8" class="s3" style="stroke-width:1.9"/>
<circle cx="551.9" cy="519.8" r="1.0" class="s"/>
<path d="M555.1,499.3 Q556.6,497.3 559.1,497.6" class="s3"/>
<circle cx="561.6" cy="500.8" r="0.7" class="k"/>
<text x="587.0" y="498.5" class="t" text-anchor="middle">062</text>
<line x1="562.0" y1="496.0" x2="581.0" y2="496.0" class="sg"/>
<text x="587.0" y="513.7" class="t" text-anchor="middle">066</text>
<line x1="556.0" y1="511.6" x2="581.0" y2="511.6" class="sg"/>
<text x="587.0" y="528.5" class="t" text-anchor="middle">060</text>
<path d="M563.0,524.0 L568.0,526.4 L581.0,526.4" class="sg"/>
<text x="542.0" y="539.5" class="t" text-anchor="middle">064</text>
<path d="M537.0,506.0 L541.0,532.0 L544.5,502.5" class="sg"/>
<line x1="331.9" y1="395.5" x2="331.9" y2="408.5" class="s"/>
<rect x="331.2" y="400.5" width="1.4" height="3.8" rx="0" class="k"/>
<path d="M325.6,411.9 L332.5,408.1 L332.5,415.6 Z" class="s2"/>
<text x="339.4" y="393.4" class="t" text-anchor="middle">053</text>
<line x1="332.6" y1="401.3" x2="338.8" y2="393.8" class="sg"/>
<text x="341.9" y="419.0" class="t" text-anchor="middle">051</text>
<line x1="333.0" y1="413.8" x2="336.5" y2="415.5" class="sg"/>
<line x1="488.5" y1="521.0" x2="488.5" y2="534.0" class="s"/>
<rect x="487.8" y="526.0" width="1.4" height="3.8" rx="0" class="k"/>
<path d="M482.1,538.3 L489.0,534.5 L489.0,542.0 Z" class="s2"/>
<text x="502.0" y="512.1" class="t" text-anchor="middle">053</text>
<path d="M502.0,513.0 L502.0,521.0 L489.5,528.0" class="sg"/>
<text x="502.0" y="540.1" class="t" text-anchor="middle">051</text>
<line x1="490.0" y1="538.0" x2="497.0" y2="538.0" class="sg"/>
<path d="M341.6,441.4 L343.8,439.9 L391.0,465.1 L388.8,466.6 Z" class="sf"/>
<path d="M341.6,441.4 L388.8,466.6 L388.8,470.4 L341.6,445.2 Z" class="sf"/>
<line x1="341.2" y1="441.2" x2="341.2" y2="445.3" class="s2"/>
<path d="M388.8,466.6 L394.4,463.0 L395.2,463.4 L395.2,473.6 L390.4,475.2 L388.8,470.6 Z" class="sf"/>
<line x1="393.8" y1="463.8" x2="393.8" y2="473.4" class="s"/>
<circle cx="388.2" cy="466.8" r="0.9" class="k"/>
<line x1="369.6" y1="451.0" x2="369.6" y2="457.0" class="s"/>
<line x1="372.8" y1="451.0" x2="372.8" y2="457.0" class="s"/>
<rect x="369.6" y="450.5" width="3.2" height="6.5" class="sf"/>
<ellipse cx="371.2" cy="457.0" rx="1.6" ry="0.7" transform="rotate(0 371.2 457.0)" class="s"/>
<ellipse cx="371.2" cy="449.0" rx="4.1" ry="1.9" transform="rotate(0 371.2 449.0)" class="kg"/>
<ellipse cx="371.2" cy="448.7" rx="2.6" ry="1.4" transform="rotate(0 371.2 448.7)" class="k"/>
<ellipse cx="371.2" cy="448.5" rx="1.2" ry="0.6" transform="rotate(0 371.2 448.5)" class="sf"/>
<line x1="332.3" y1="451.3" x2="332.3" y2="456.3" class="s"/>
<line x1="333.3" y1="451.3" x2="333.3" y2="456.3" class="s"/>
<ellipse cx="332.8" cy="451.3" rx="0.6" ry="0.3" transform="rotate(0 332.8 451.3)" class="s"/>
<path d="M330.8,456.8 L334.8,456.8 L334.8,472.3 L330.8,472.3 Z" class="sf"/>
<ellipse cx="332.8" cy="456.8" rx="2.0" ry="0.8" transform="rotate(0 332.8 456.8)" class="sf"/>
<line x1="335.4" y1="462.3" x2="335.4" y2="468.3" class="s"/>
<path d="M346.4,435.0 L346.4,441.0" class="s"/>
<path d="M345.3,434.0 L347.8,434.6 L346.6,436.5 Z" class="k"/>
<circle cx="360.8" cy="448.2" r="0.8" class="k"/>
<circle cx="379.2" cy="459.4" r="0.6" class="k"/>
<circle cx="351.2" cy="442.6" r="0.6" class="k"/>
<path d="M371.2,439.4 L387.2,448.2 L374.4,454.6" class="sg"/>
<line x1="371.2" y1="439.4" x2="371.2" y2="447.0" class="sg"/>
<text x="363.6" y="437.1" class="t" text-anchor="middle">045</text>
<path d="M364.0,438.6 L364.0,443.8 L369.6,446.6" class="sg"/>
<text x="396.3" y="456.9" class="t" text-anchor="middle">238</text>
<line x1="373.6" y1="455.4" x2="390.5" y2="454.6" class="sg"/>
<text x="332.5" y="432.1" class="t" text-anchor="middle">047</text>
<line x1="333.0" y1="433.8" x2="333.0" y2="444.5" class="sg"/>
<text x="362.0" y="490.3" class="t" text-anchor="middle">050</text>
<path d="M361.9,483.5 L379.0,469.5" class="sg"/>
<path d="M397.6,474.9 L399.8,473.4 L438.5,494.0 L436.3,495.5 Z" class="sf"/>
<path d="M397.6,474.9 L436.3,495.5 L436.3,499.3 L397.6,478.7 Z" class="sf"/>
<line x1="397.2" y1="474.7" x2="397.2" y2="478.8" class="s2"/>
<path d="M436.3,495.5 L441.9,491.9 L442.7,492.3 L442.7,502.5 L437.9,504.1 L436.3,499.5 Z" class="sf"/>
<line x1="441.3" y1="492.7" x2="441.3" y2="502.3" class="s"/>
<circle cx="435.7" cy="495.7" r="0.9" class="k"/>
<line x1="416.3" y1="478.8" x2="416.3" y2="484.8" class="s"/>
<line x1="419.5" y1="478.8" x2="419.5" y2="484.8" class="s"/>
<rect x="416.3" y="478.3" width="3.2" height="6.5" class="sf"/>
<ellipse cx="417.9" cy="484.8" rx="1.6" ry="0.7" transform="rotate(0 417.9 484.8)" class="s"/>
<ellipse cx="417.9" cy="476.8" rx="4.1" ry="1.9" transform="rotate(0 417.9 476.8)" class="kg"/>
<ellipse cx="417.9" cy="476.5" rx="2.6" ry="1.4" transform="rotate(0 417.9 476.5)" class="k"/>
<ellipse cx="417.9" cy="476.3" rx="1.2" ry="0.6" transform="rotate(0 417.9 476.3)" class="sf"/>
<line x1="379.1" y1="477.8" x2="379.1" y2="482.8" class="s"/>
<line x1="380.1" y1="477.8" x2="380.1" y2="482.8" class="s"/>
<ellipse cx="379.6" cy="477.8" rx="0.6" ry="0.3" transform="rotate(0 379.6 477.8)" class="s"/>
<path d="M377.6,483.3 L381.6,483.3 L381.6,498.8 L377.6,498.8 Z" class="sf"/>
<ellipse cx="379.6" cy="483.3" rx="2.0" ry="0.8" transform="rotate(0 379.6 483.3)" class="sf"/>
<line x1="382.2" y1="488.8" x2="382.2" y2="494.8" class="s"/>
<path d="M397.3,472.3 L404.0,466.3 L405.9,468.1 L405.9,474.0" class="s"/>
<line x1="404.4" y1="467.0" x2="404.4" y2="473.8" class="s"/>
<circle cx="409.0" cy="478.5" r="0.8" class="k"/>
<circle cx="426.0" cy="488.0" r="0.6" class="k"/>
<path d="M418.3,466.3 L434.0,475.3 L422.0,481.3" class="sg"/>
<line x1="418.3" y1="466.3" x2="418.3" y2="474.0" class="sg"/>
<text x="410.4" y="463.9" class="t" text-anchor="middle">045</text>
<path d="M410.4,465.5 L410.4,471.1 L416.0,474.1" class="sg"/>
<text x="437.0" y="484.5" class="t" text-anchor="middle">038</text>
<line x1="420.5" y1="482.4" x2="430.3" y2="482.4" class="sg"/>
<text x="422.5" y="510.9" class="t" text-anchor="middle">050</text>
<path d="M422.8,505.0 L422.8,500.0 L434.8,494.8" class="sg"/>
<text x="360.8" y="508.1" class="t" text-anchor="middle">047</text>
<path d="M363.5,500.5 L377.0,491.5" class="sg"/>
<path d="M395.6,428.8 L396.8,427.8 L405.4,433.8 L404.2,434.8 Z" class="sf"/>
<path d="M395.6,428.8 L404.2,434.8 L404.2,436.4 L395.6,430.4 Z" class="kg"/>
<path d="M407.5,425.3 q1,-1.2 2,0 q1,1.2 2,0 q1,-1.2 2,0" class="s2"/>
<path d="M435.6,453.1 L436.8,452.1 L445.4,458.1 L444.2,459.1 Z" class="sf"/>
<path d="M435.6,453.1 L444.2,459.1 L444.2,460.7 L435.6,454.7 Z" class="kg"/>
<path d="M448.0,448.5 q1,-1.2 2,0 q1,1.2 2,0 q1,-1.2 2,0" class="s2"/>
<ellipse cx="439.4" cy="446.3" rx="1.0" ry="0.8" transform="rotate(0 439.4 446.3)" class="kg"/>
<text x="438.8" y="435.9" class="t" text-anchor="middle">170</text>
<line x1="438.8" y1="437.5" x2="438.8" y2="444.5" class="sg"/>
<text x="436.9" y="470.2" class="t" text-anchor="middle">037</text>
<line x1="437.5" y1="460.0" x2="437.5" y2="464.4" class="sg"/>
<text x="453.1" y="470.2" class="t" text-anchor="middle">036</text>
<line x1="453.1" y1="451.3" x2="453.1" y2="464.4" class="sg"/>
<text x="448.0" y="344.6" class="t" text-anchor="middle">040</text>
<text x="425.8" y="364.9" class="t" text-anchor="middle">079</text>
<line x1="425.8" y1="366.5" x2="425.8" y2="395.0" class="sg"/>
<path d="M580.5,476.5 L600.5,466.0 L604.0,467.8 L604.0,475.8 L584.0,486.0 L581.0,485.0 Z" class="sf"/>
<line x1="600.5" y1="466.0" x2="600.5" y2="475.0" class="s"/>
<line x1="600.5" y1="475.0" x2="604.0" y2="475.8" class="s"/>
<circle cx="602.2" cy="469.0" r="0.5" class="k"/>
<circle cx="582.5" cy="478.0" r="0.5" class="k"/>
<circle cx="582.5" cy="483.0" r="0.5" class="k"/>
<text x="618.3" y="473.3" class="t" text-anchor="middle">079</text>
<line x1="604.5" y1="471.0" x2="613.5" y2="471.0" class="sg"/>
<line x1="598.9" y1="603.9" x2="600.1" y2="605.7" class="sg"/>
<line x1="600.4" y1="603.0" x2="601.6" y2="604.8" class="sg"/>
<line x1="601.9" y1="602.1" x2="603.1" y2="603.9" class="sg"/>
<line x1="603.4" y1="601.3" x2="604.6" y2="603.1" class="sg"/>
<line x1="605.0" y1="600.4" x2="606.2" y2="602.2" class="sg"/>
<line x1="606.5" y1="599.5" x2="607.7" y2="601.3" class="sg"/>
<line x1="608.0" y1="598.6" x2="609.2" y2="600.4" class="sg"/>
<line x1="609.5" y1="597.8" x2="610.7" y2="599.6" class="sg"/>
<line x1="611.0" y1="596.9" x2="612.2" y2="598.7" class="sg"/>
<line x1="612.5" y1="596.0" x2="613.8" y2="597.8" class="sg"/>
<line x1="614.1" y1="595.1" x2="615.3" y2="596.9" class="sg"/>
<line x1="615.6" y1="594.3" x2="616.8" y2="596.1" class="sg"/>
<line x1="617.1" y1="593.4" x2="618.3" y2="595.2" class="sg"/>
<line x1="618.6" y1="592.5" x2="619.8" y2="594.3" class="sg"/>
<line x1="620.1" y1="591.6" x2="621.3" y2="593.4" class="sg"/>
<line x1="621.6" y1="590.8" x2="622.9" y2="592.6" class="sg"/>
<line x1="623.2" y1="589.9" x2="624.4" y2="591.7" class="sg"/>
<line x1="624.7" y1="589.0" x2="625.9" y2="590.8" class="sg"/>
<line x1="626.2" y1="588.1" x2="627.4" y2="589.9" class="sg"/>
<line x1="627.7" y1="587.3" x2="628.9" y2="589.1" class="sg"/>
<line x1="629.2" y1="586.4" x2="630.4" y2="588.2" class="sg"/>
<line x1="630.8" y1="585.5" x2="632.0" y2="587.3" class="sg"/>
<line x1="632.3" y1="584.6" x2="633.5" y2="586.4" class="sg"/>
<line x1="633.8" y1="583.8" x2="635.0" y2="585.6" class="sg"/>
<line x1="635.3" y1="582.9" x2="636.5" y2="584.7" class="sg"/>
<line x1="636.8" y1="582.0" x2="638.0" y2="583.8" class="sg"/>
<line x1="638.3" y1="581.1" x2="639.5" y2="582.9" class="sg"/>
<line x1="639.9" y1="580.3" x2="641.1" y2="582.1" class="sg"/>
<line x1="641.4" y1="579.4" x2="642.6" y2="581.2" class="sg"/>
<line x1="642.9" y1="578.5" x2="644.1" y2="580.3" class="sg"/>
<line x1="644.4" y1="577.6" x2="645.6" y2="579.4" class="sg"/>
<line x1="645.9" y1="576.8" x2="647.1" y2="578.6" class="sg"/>
<line x1="647.4" y1="575.9" x2="648.6" y2="577.7" class="sg"/>
<line x1="648.9" y1="575.0" x2="650.1" y2="576.8" class="sg"/>
<line x1="650.5" y1="574.1" x2="651.7" y2="575.9" class="sg"/>
<line x1="652.0" y1="573.3" x2="653.2" y2="575.1" class="sg"/>
<line x1="653.5" y1="572.4" x2="654.7" y2="574.2" class="sg"/>
<line x1="655.0" y1="571.5" x2="656.2" y2="573.3" class="sg"/>
<line x1="656.5" y1="570.6" x2="657.7" y2="572.4" class="sg"/>
<line x1="658.0" y1="569.8" x2="659.2" y2="571.6" class="sg"/>
<line x1="659.6" y1="568.9" x2="660.8" y2="570.7" class="sg"/>
<line x1="661.1" y1="568.0" x2="662.3" y2="569.8" class="sg"/>
<line x1="662.6" y1="567.1" x2="663.8" y2="568.9" class="sg"/>
<line x1="664.1" y1="566.3" x2="665.3" y2="568.1" class="sg"/>
<line x1="665.6" y1="565.4" x2="666.8" y2="567.2" class="sg"/>
<line x1="667.1" y1="564.5" x2="668.4" y2="566.3" class="sg"/>
<line x1="668.7" y1="563.6" x2="669.9" y2="565.4" class="sg"/>
<line x1="670.2" y1="562.8" x2="671.4" y2="564.6" class="sg"/>
<line x1="671.7" y1="561.9" x2="672.9" y2="563.7" class="sg"/>
<line x1="673.2" y1="561.0" x2="674.4" y2="562.8" class="sg"/>
<line x1="674.7" y1="560.1" x2="675.9" y2="561.9" class="sg"/>
<line x1="676.2" y1="559.3" x2="677.5" y2="561.1" class="sg"/>
<line x1="677.8" y1="558.4" x2="679.0" y2="560.2" class="sg"/>
<line x1="679.3" y1="557.5" x2="680.5" y2="559.3" class="sg"/>
<line x1="680.8" y1="556.6" x2="682.0" y2="558.4" class="sg"/>
<line x1="682.3" y1="555.8" x2="683.5" y2="557.6" class="sg"/>
<line x1="683.8" y1="554.9" x2="685.0" y2="556.7" class="sg"/>
<line x1="685.4" y1="554.0" x2="686.6" y2="555.8" class="sg"/>
<line x1="686.9" y1="553.1" x2="688.1" y2="554.9" class="sg"/>
<line x1="688.4" y1="552.3" x2="689.6" y2="554.1" class="sg"/>
<line x1="599.5" y1="603.8" x2="690.5" y2="551.3" class="s"/>
<line x1="599.5" y1="605.8" x2="690.5" y2="553.3" class="s"/>
<ellipse cx="693.4" cy="550.5" rx="3.2" ry="2.2" transform="rotate(-30 693.4 550.5)" class="s2"/>
<ellipse cx="693.4" cy="550.5" rx="1.6" ry="1.0" transform="rotate(-30 693.4 550.5)" class="s"/>
<line x1="586.2" y1="612.5" x2="582.2" y2="611.5" style="stroke:#000;stroke-width:.45"/>
<line x1="594.3" y1="608.0" x2="591.9" y2="605.9" style="stroke:#000;stroke-width:.45"/>
<line x1="581.3" y1="615.3" x2="582.5" y2="613.7" style="stroke:#000;stroke-width:.45"/>
<line x1="586.2" y1="612.6" x2="590.8" y2="612.5" style="stroke:#000;stroke-width:.45"/>
<line x1="599.4" y1="605.0" x2="595.1" y2="605.6" style="stroke:#000;stroke-width:.45"/>
<line x1="584.3" y1="613.6" x2="580.7" y2="610.2" style="stroke:#000;stroke-width:.45"/>
<line x1="592.5" y1="609.0" x2="592.2" y2="603.5" style="stroke:#000;stroke-width:.45"/>
<line x1="582.4" y1="614.7" x2="582.6" y2="611.6" style="stroke:#000;stroke-width:.45"/>
<line x1="587.6" y1="611.7" x2="594.3" y2="612.8" style="stroke:#000;stroke-width:.45"/>
<line x1="591.4" y1="609.6" x2="590.0" y2="603.4" style="stroke:#000;stroke-width:.45"/>
<line x1="596.7" y1="606.6" x2="600.5" y2="604.8" style="stroke:#000;stroke-width:.45"/>
<line x1="598.6" y1="605.5" x2="593.3" y2="607.1" style="stroke:#000;stroke-width:.45"/>
<line x1="600.3" y1="604.5" x2="602.3" y2="605.7" style="stroke:#000;stroke-width:.45"/>
<line x1="585.8" y1="612.8" x2="590.1" y2="612.0" style="stroke:#000;stroke-width:.45"/>
<line x1="594.8" y1="607.7" x2="593.1" y2="611.9" style="stroke:#000;stroke-width:.45"/>
<line x1="589.5" y1="610.7" x2="586.0" y2="614.7" style="stroke:#000;stroke-width:.45"/>
<line x1="593.9" y1="608.2" x2="599.0" y2="605.2" style="stroke:#000;stroke-width:.45"/>
<line x1="601.4" y1="603.9" x2="604.1" y2="601.0" style="stroke:#000;stroke-width:.45"/>
<line x1="595.8" y1="607.1" x2="599.2" y2="611.9" style="stroke:#000;stroke-width:.45"/>
<line x1="602.2" y1="603.4" x2="604.7" y2="602.0" style="stroke:#000;stroke-width:.45"/>
<line x1="596.7" y1="606.6" x2="598.2" y2="611.6" style="stroke:#000;stroke-width:.45"/>
<line x1="593.6" y1="608.3" x2="592.9" y2="611.2" style="stroke:#000;stroke-width:.45"/>
<line x1="599.8" y1="604.8" x2="602.2" y2="604.7" style="stroke:#000;stroke-width:.45"/>
<line x1="598.6" y1="605.5" x2="596.2" y2="606.8" style="stroke:#000;stroke-width:.45"/>
<line x1="587.5" y1="611.8" x2="588.3" y2="606.1" style="stroke:#000;stroke-width:.45"/>
<line x1="582.0" y1="614.9" x2="580.5" y2="613.9" style="stroke:#000;stroke-width:.45"/>
<line x1="596.8" y1="606.5" x2="593.7" y2="611.2" style="stroke:#000;stroke-width:.45"/>
<line x1="602.6" y1="603.2" x2="598.6" y2="603.1" style="stroke:#000;stroke-width:.45"/>
<line x1="587.8" y1="611.6" x2="592.8" y2="613.9" style="stroke:#000;stroke-width:.45"/>
<line x1="581.7" y1="615.1" x2="582.6" y2="617.4" style="stroke:#000;stroke-width:.45"/>
<line x1="594.4" y1="607.9" x2="596.2" y2="610.2" style="stroke:#000;stroke-width:.45"/>
<line x1="600.1" y1="604.7" x2="598.1" y2="608.5" style="stroke:#000;stroke-width:.45"/>
<line x1="600.7" y1="604.3" x2="598.4" y2="606.2" style="stroke:#000;stroke-width:.45"/>
<line x1="592.4" y1="609.0" x2="588.7" y2="605.0" style="stroke:#000;stroke-width:.45"/>
<line x1="593.3" y1="608.5" x2="587.8" y2="604.1" style="stroke:#000;stroke-width:.45"/>
<line x1="592.2" y1="609.2" x2="586.1" y2="611.5" style="stroke:#000;stroke-width:.45"/>
<line x1="586.2" y1="612.5" x2="584.1" y2="618.0" style="stroke:#000;stroke-width:.45"/>
<line x1="592.5" y1="609.0" x2="589.4" y2="608.2" style="stroke:#000;stroke-width:.45"/>
<line x1="590.1" y1="610.3" x2="587.3" y2="609.0" style="stroke:#000;stroke-width:.45"/>
<line x1="594.5" y1="607.8" x2="592.3" y2="605.7" style="stroke:#000;stroke-width:.45"/>
<line x1="594.8" y1="607.7" x2="588.9" y2="608.7" style="stroke:#000;stroke-width:.45"/>
<line x1="588.8" y1="611.1" x2="587.0" y2="605.8" style="stroke:#000;stroke-width:.45"/>
<line x1="581.5" y1="615.2" x2="584.7" y2="616.3" style="stroke:#000;stroke-width:.45"/>
<line x1="602.2" y1="603.5" x2="602.2" y2="605.7" style="stroke:#000;stroke-width:.45"/>
<line x1="594.0" y1="608.1" x2="592.0" y2="611.8" style="stroke:#000;stroke-width:.45"/>
<line x1="587.9" y1="611.6" x2="584.0" y2="615.1" style="stroke:#000;stroke-width:.45"/>
<line x1="587.6" y1="611.7" x2="583.1" y2="615.5" style="stroke:#000;stroke-width:.45"/>
<line x1="581.6" y1="615.2" x2="578.3" y2="613.9" style="stroke:#000;stroke-width:.45"/>
<line x1="587.8" y1="611.6" x2="588.9" y2="617.1" style="stroke:#000;stroke-width:.45"/>
<line x1="586.3" y1="612.5" x2="588.0" y2="616.1" style="stroke:#000;stroke-width:.45"/>
<line x1="596.4" y1="606.8" x2="599.7" y2="608.9" style="stroke:#000;stroke-width:.45"/>
<line x1="588.3" y1="611.3" x2="590.9" y2="607.6" style="stroke:#000;stroke-width:.45"/>
<line x1="599.8" y1="604.8" x2="601.4" y2="607.2" style="stroke:#000;stroke-width:.45"/>
<line x1="595.3" y1="607.4" x2="599.0" y2="604.6" style="stroke:#000;stroke-width:.45"/>
<line x1="586.0" y1="612.7" x2="589.4" y2="615.5" style="stroke:#000;stroke-width:.45"/>
<line x1="585.2" y1="613.1" x2="587.2" y2="608.5" style="stroke:#000;stroke-width:.45"/>
<line x1="585.0" y1="613.2" x2="584.0" y2="617.8" style="stroke:#000;stroke-width:.45"/>
<line x1="595.1" y1="607.5" x2="596.7" y2="603.9" style="stroke:#000;stroke-width:.45"/>
<line x1="583.9" y1="613.9" x2="582.6" y2="617.9" style="stroke:#000;stroke-width:.45"/>
<line x1="587.0" y1="612.1" x2="584.3" y2="615.3" style="stroke:#000;stroke-width:.45"/>
<line x1="590.2" y1="610.3" x2="583.9" y2="613.7" style="stroke:#000;stroke-width:.45"/>
<line x1="584.4" y1="613.6" x2="590.2" y2="613.7" style="stroke:#000;stroke-width:.45"/>
<line x1="600.4" y1="604.5" x2="603.6" y2="604.3" style="stroke:#000;stroke-width:.45"/>
<line x1="601.9" y1="603.6" x2="603.8" y2="602.8" style="stroke:#000;stroke-width:.45"/>
<line x1="597.4" y1="606.2" x2="600.1" y2="602.4" style="stroke:#000;stroke-width:.45"/>
<line x1="592.4" y1="609.0" x2="591.2" y2="613.0" style="stroke:#000;stroke-width:.45"/>
<line x1="586.0" y1="612.7" x2="590.6" y2="614.4" style="stroke:#000;stroke-width:.45"/>
<line x1="587.3" y1="611.9" x2="588.5" y2="609.5" style="stroke:#000;stroke-width:.45"/>
<line x1="600.9" y1="604.2" x2="599.3" y2="600.7" style="stroke:#000;stroke-width:.45"/>
<line x1="600.7" y1="604.3" x2="603.6" y2="602.5" style="stroke:#000;stroke-width:.45"/>
<line x1="581.3" y1="615.3" x2="581.2" y2="613.6" style="stroke:#000;stroke-width:.45"/>
<line x1="587.6" y1="611.8" x2="584.9" y2="607.9" style="stroke:#000;stroke-width:.45"/>
<line x1="590.1" y1="610.3" x2="595.7" y2="608.4" style="stroke:#000;stroke-width:.45"/>
<line x1="588.5" y1="611.2" x2="588.4" y2="617.2" style="stroke:#000;stroke-width:.45"/>
<line x1="591.5" y1="609.5" x2="592.5" y2="605.5" style="stroke:#000;stroke-width:.45"/>
<line x1="585.3" y1="613.0" x2="579.8" y2="612.0" style="stroke:#000;stroke-width:.45"/>
<line x1="584.8" y1="613.4" x2="586.3" y2="608.6" style="stroke:#000;stroke-width:.45"/>
<line x1="598.7" y1="605.4" x2="599.8" y2="603.6" style="stroke:#000;stroke-width:.45"/>
<line x1="594.8" y1="607.6" x2="596.9" y2="605.6" style="stroke:#000;stroke-width:.45"/>
<line x1="587.0" y1="612.1" x2="586.4" y2="616.4" style="stroke:#000;stroke-width:.45"/>
<line x1="590.3" y1="610.2" x2="583.5" y2="611.2" style="stroke:#000;stroke-width:.45"/>
<line x1="581.0" y1="615.5" x2="582.8" y2="616.0" style="stroke:#000;stroke-width:.45"/>
<line x1="583.7" y1="613.9" x2="588.8" y2="615.9" style="stroke:#000;stroke-width:.45"/>
<line x1="599.8" y1="604.8" x2="603.0" y2="606.4" style="stroke:#000;stroke-width:.45"/>
<line x1="587.9" y1="611.6" x2="586.2" y2="615.1" style="stroke:#000;stroke-width:.45"/>
<line x1="595.2" y1="607.4" x2="591.3" y2="605.4" style="stroke:#000;stroke-width:.45"/>
<line x1="585.2" y1="613.1" x2="583.8" y2="615.4" style="stroke:#000;stroke-width:.45"/>
<line x1="593.2" y1="608.6" x2="592.2" y2="604.5" style="stroke:#000;stroke-width:.45"/>
<line x1="582.8" y1="614.5" x2="584.1" y2="616.9" style="stroke:#000;stroke-width:.45"/>
<line x1="594.3" y1="607.9" x2="595.3" y2="603.9" style="stroke:#000;stroke-width:.45"/>
<line x1="598.6" y1="605.5" x2="595.8" y2="603.2" style="stroke:#000;stroke-width:.45"/>
<line x1="589.2" y1="610.8" x2="582.8" y2="611.0" style="stroke:#000;stroke-width:.45"/>
<line x1="590.3" y1="610.2" x2="588.4" y2="606.0" style="stroke:#000;stroke-width:.45"/>
<line x1="586.4" y1="612.4" x2="580.9" y2="611.4" style="stroke:#000;stroke-width:.45"/>
<line x1="582.6" y1="614.6" x2="579.7" y2="615.9" style="stroke:#000;stroke-width:.45"/>
<line x1="600.4" y1="604.5" x2="603.2" y2="603.5" style="stroke:#000;stroke-width:.45"/>
<line x1="600.8" y1="604.3" x2="601.4" y2="602.1" style="stroke:#000;stroke-width:.45"/>
<line x1="591.2" y1="609.7" x2="596.3" y2="613.9" style="stroke:#000;stroke-width:.45"/>
<line x1="595.6" y1="607.2" x2="600.4" y2="603.7" style="stroke:#000;stroke-width:.45"/>
<line x1="595.7" y1="607.2" x2="595.1" y2="602.6" style="stroke:#000;stroke-width:.45"/>
<line x1="583.3" y1="614.2" x2="581.4" y2="613.3" style="stroke:#000;stroke-width:.45"/>
<line x1="584.2" y1="613.7" x2="584.5" y2="611.6" style="stroke:#000;stroke-width:.45"/>
<line x1="583.0" y1="614.4" x2="586.9" y2="616.7" style="stroke:#000;stroke-width:.45"/>
<line x1="584.9" y1="613.3" x2="590.5" y2="614.0" style="stroke:#000;stroke-width:.45"/>
<line x1="583.7" y1="614.0" x2="586.2" y2="610.8" style="stroke:#000;stroke-width:.45"/>
<line x1="599.4" y1="605.0" x2="603.3" y2="604.0" style="stroke:#000;stroke-width:.45"/>
<line x1="598.6" y1="605.5" x2="603.6" y2="606.5" style="stroke:#000;stroke-width:.45"/>
<line x1="592.2" y1="609.1" x2="591.4" y2="606.0" style="stroke:#000;stroke-width:.45"/>
<line x1="597.5" y1="606.1" x2="600.1" y2="605.2" style="stroke:#000;stroke-width:.45"/>
<line x1="588.1" y1="611.4" x2="581.9" y2="609.2" style="stroke:#000;stroke-width:.45"/>
<line x1="586.3" y1="612.5" x2="587.9" y2="615.4" style="stroke:#000;stroke-width:.45"/>
<line x1="594.6" y1="607.8" x2="594.7" y2="603.7" style="stroke:#000;stroke-width:.45"/>
<line x1="589.1" y1="610.9" x2="585.3" y2="613.3" style="stroke:#000;stroke-width:.45"/>
<line x1="590.2" y1="610.3" x2="595.0" y2="612.6" style="stroke:#000;stroke-width:.45"/>
<line x1="602.4" y1="603.3" x2="599.5" y2="604.8" style="stroke:#000;stroke-width:.45"/>
<line x1="584.5" y1="613.5" x2="582.7" y2="609.4" style="stroke:#000;stroke-width:.45"/>
<line x1="595.8" y1="607.1" x2="590.9" y2="606.6" style="stroke:#000;stroke-width:.45"/>
<line x1="595.1" y1="607.5" x2="598.0" y2="605.6" style="stroke:#000;stroke-width:.45"/>
<line x1="583.1" y1="614.3" x2="583.1" y2="610.1" style="stroke:#000;stroke-width:.45"/>
<line x1="592.4" y1="609.0" x2="586.2" y2="611.0" style="stroke:#000;stroke-width:.45"/>
<line x1="585.1" y1="613.2" x2="584.7" y2="615.9" style="stroke:#000;stroke-width:.45"/>
<line x1="593.9" y1="608.2" x2="592.2" y2="611.4" style="stroke:#000;stroke-width:.45"/>
<line x1="596.2" y1="606.9" x2="600.1" y2="605.9" style="stroke:#000;stroke-width:.45"/>
<line x1="596.5" y1="606.7" x2="591.1" y2="609.5" style="stroke:#000;stroke-width:.45"/>
<line x1="593.9" y1="608.2" x2="593.4" y2="611.7" style="stroke:#000;stroke-width:.45"/>
<line x1="581.5" y1="615.2" x2="578.8" y2="615.5" style="stroke:#000;stroke-width:.45"/>
<line x1="584.8" y1="613.3" x2="582.5" y2="615.7" style="stroke:#000;stroke-width:.45"/>
<line x1="598.0" y1="605.8" x2="601.9" y2="609.9" style="stroke:#000;stroke-width:.45"/>
<line x1="591.6" y1="609.5" x2="587.1" y2="606.8" style="stroke:#000;stroke-width:.45"/>
<line x1="599.4" y1="605.1" x2="601.1" y2="602.0" style="stroke:#000;stroke-width:.45"/>
<line x1="591.6" y1="609.5" x2="590.3" y2="603.4" style="stroke:#000;stroke-width:.45"/>
<line x1="589.8" y1="610.5" x2="589.0" y2="604.0" style="stroke:#000;stroke-width:.45"/>
<line x1="591.3" y1="609.7" x2="591.8" y2="613.3" style="stroke:#000;stroke-width:.45"/>
<line x1="596.8" y1="606.5" x2="593.8" y2="601.5" style="stroke:#000;stroke-width:.45"/>
<line x1="599.8" y1="604.8" x2="599.9" y2="607.1" style="stroke:#000;stroke-width:.45"/>
<line x1="586.7" y1="612.3" x2="588.9" y2="616.8" style="stroke:#000;stroke-width:.45"/>
<line x1="599.9" y1="604.8" x2="602.2" y2="603.3" style="stroke:#000;stroke-width:.45"/>
<line x1="600.0" y1="604.7" x2="598.7" y2="607.3" style="stroke:#000;stroke-width:.45"/>
<line x1="597.0" y1="606.4" x2="599.7" y2="607.7" style="stroke:#000;stroke-width:.45"/>
<line x1="599.3" y1="605.1" x2="598.5" y2="607.9" style="stroke:#000;stroke-width:.45"/>
<line x1="593.8" y1="608.2" x2="592.4" y2="605.9" style="stroke:#000;stroke-width:.45"/>
<line x1="588.4" y1="611.3" x2="583.5" y2="613.1" style="stroke:#000;stroke-width:.45"/>
<line x1="585.6" y1="612.9" x2="580.1" y2="610.1" style="stroke:#000;stroke-width:.45"/>
<line x1="589.6" y1="610.6" x2="586.0" y2="609.7" style="stroke:#000;stroke-width:.45"/>
<line x1="587.0" y1="612.1" x2="585.4" y2="609.6" style="stroke:#000;stroke-width:.45"/>
<line x1="600.5" y1="604.4" x2="602.4" y2="603.4" style="stroke:#000;stroke-width:.45"/>
<line x1="601.7" y1="603.7" x2="599.2" y2="605.9" style="stroke:#000;stroke-width:.45"/>
<line x1="597.7" y1="606.0" x2="596.2" y2="610.2" style="stroke:#000;stroke-width:.45"/>
<line x1="595.4" y1="607.3" x2="596.8" y2="604.1" style="stroke:#000;stroke-width:.45"/>
<line x1="597.6" y1="606.1" x2="602.6" y2="605.0" style="stroke:#000;stroke-width:.45"/>
<line x1="592.8" y1="608.8" x2="597.0" y2="611.9" style="stroke:#000;stroke-width:.45"/>
<line x1="588.7" y1="611.1" x2="587.5" y2="605.9" style="stroke:#000;stroke-width:.45"/>
<line x1="593.5" y1="608.4" x2="596.0" y2="613.2" style="stroke:#000;stroke-width:.45"/>
<line x1="594.9" y1="607.6" x2="597.9" y2="613.0" style="stroke:#000;stroke-width:.45"/>
<line x1="595.4" y1="607.3" x2="600.4" y2="611.5" style="stroke:#000;stroke-width:.45"/>
<line x1="584.1" y1="613.7" x2="581.7" y2="617.3" style="stroke:#000;stroke-width:.45"/>
<line x1="594.1" y1="608.0" x2="588.4" y2="606.3" style="stroke:#000;stroke-width:.45"/>
<line x1="591.1" y1="609.8" x2="589.5" y2="613.0" style="stroke:#000;stroke-width:.45"/>
<line x1="582.5" y1="614.6" x2="581.6" y2="611.2" style="stroke:#000;stroke-width:.45"/>
<line x1="592.9" y1="608.7" x2="592.6" y2="604.6" style="stroke:#000;stroke-width:.45"/>
<line x1="586.8" y1="612.2" x2="582.0" y2="615.9" style="stroke:#000;stroke-width:.45"/>
<line x1="581.9" y1="615.0" x2="579.4" y2="614.9" style="stroke:#000;stroke-width:.45"/>
<line x1="597.9" y1="605.9" x2="595.6" y2="608.4" style="stroke:#000;stroke-width:.45"/>
<line x1="589.9" y1="610.5" x2="583.3" y2="609.0" style="stroke:#000;stroke-width:.45"/>
<line x1="588.8" y1="611.1" x2="590.8" y2="608.6" style="stroke:#000;stroke-width:.45"/>
<line x1="587.0" y1="612.1" x2="589.6" y2="613.8" style="stroke:#000;stroke-width:.45"/>
<line x1="598.1" y1="605.8" x2="597.7" y2="603.1" style="stroke:#000;stroke-width:.45"/>
<line x1="585.2" y1="613.1" x2="580.5" y2="615.4" style="stroke:#000;stroke-width:.45"/>
<line x1="598.9" y1="605.3" x2="598.9" y2="601.6" style="stroke:#000;stroke-width:.45"/>
<line x1="584.2" y1="613.7" x2="581.8" y2="615.2" style="stroke:#000;stroke-width:.45"/>
<line x1="592.6" y1="608.9" x2="588.8" y2="607.4" style="stroke:#000;stroke-width:.45"/>
<line x1="586.5" y1="612.4" x2="587.1" y2="610.0" style="stroke:#000;stroke-width:.45"/>
<line x1="598.7" y1="605.5" x2="603.1" y2="602.4" style="stroke:#000;stroke-width:.45"/>
<line x1="589.4" y1="610.7" x2="583.9" y2="609.1" style="stroke:#000;stroke-width:.45"/>
<line x1="594.9" y1="607.6" x2="600.9" y2="606.8" style="stroke:#000;stroke-width:.45"/>
<line x1="587.6" y1="611.8" x2="590.8" y2="608.4" style="stroke:#000;stroke-width:.45"/>
<line x1="594.2" y1="608.0" x2="593.8" y2="605.4" style="stroke:#000;stroke-width:.45"/>
<line x1="598.0" y1="605.9" x2="595.7" y2="602.7" style="stroke:#000;stroke-width:.45"/>
<line x1="592.5" y1="609.0" x2="588.5" y2="609.8" style="stroke:#000;stroke-width:.45"/>
<line x1="592.7" y1="608.9" x2="598.1" y2="610.0" style="stroke:#000;stroke-width:.45"/>
<line x1="595.2" y1="607.4" x2="590.1" y2="609.0" style="stroke:#000;stroke-width:.45"/>
<line x1="602.1" y1="603.5" x2="603.6" y2="602.5" style="stroke:#000;stroke-width:.45"/>
<line x1="598.4" y1="605.6" x2="596.6" y2="604.1" style="stroke:#000;stroke-width:.45"/>
<line x1="588.9" y1="611.0" x2="589.3" y2="613.9" style="stroke:#000;stroke-width:.45"/>
<line x1="592.9" y1="608.8" x2="597.1" y2="607.1" style="stroke:#000;stroke-width:.45"/>
<line x1="600.2" y1="604.6" x2="599.3" y2="602.7" style="stroke:#000;stroke-width:.45"/>
<line x1="599.9" y1="604.8" x2="595.9" y2="602.3" style="stroke:#000;stroke-width:.45"/>
<line x1="596.8" y1="606.6" x2="596.5" y2="603.0" style="stroke:#000;stroke-width:.45"/>
<line x1="598.7" y1="605.4" x2="603.6" y2="603.5" style="stroke:#000;stroke-width:.45"/>
<line x1="590.6" y1="610.0" x2="590.9" y2="605.4" style="stroke:#000;stroke-width:.45"/>
<line x1="583.4" y1="614.1" x2="585.7" y2="614.7" style="stroke:#000;stroke-width:.45"/>
<line x1="585.4" y1="613.0" x2="587.8" y2="616.2" style="stroke:#000;stroke-width:.45"/>
<line x1="596.4" y1="606.8" x2="592.0" y2="605.9" style="stroke:#000;stroke-width:.45"/>
<line x1="595.3" y1="607.4" x2="593.6" y2="611.4" style="stroke:#000;stroke-width:.45"/>
<line x1="597.7" y1="606.0" x2="595.0" y2="607.6" style="stroke:#000;stroke-width:.45"/>
<line x1="600.8" y1="604.3" x2="600.2" y2="601.8" style="stroke:#000;stroke-width:.45"/>
<line x1="589.2" y1="610.9" x2="583.4" y2="609.9" style="stroke:#000;stroke-width:.45"/>
<line x1="585.9" y1="612.7" x2="589.4" y2="612.8" style="stroke:#000;stroke-width:.45"/>
<line x1="598.2" y1="605.7" x2="600.8" y2="608.5" style="stroke:#000;stroke-width:.45"/>
<line x1="585.3" y1="613.1" x2="586.1" y2="615.7" style="stroke:#000;stroke-width:.45"/>
<line x1="589.9" y1="610.5" x2="591.5" y2="612.9" style="stroke:#000;stroke-width:.45"/>
<line x1="583.4" y1="614.1" x2="585.3" y2="616.9" style="stroke:#000;stroke-width:.45"/>
<line x1="582.3" y1="614.8" x2="585.5" y2="615.1" style="stroke:#000;stroke-width:.45"/>
<line x1="590.0" y1="610.4" x2="589.0" y2="607.6" style="stroke:#000;stroke-width:.45"/>
<line x1="589.9" y1="610.5" x2="587.3" y2="612.1" style="stroke:#000;stroke-width:.45"/>
<line x1="602.2" y1="603.4" x2="602.6" y2="605.0" style="stroke:#000;stroke-width:.45"/>
<line x1="591.4" y1="609.6" x2="594.6" y2="614.1" style="stroke:#000;stroke-width:.45"/>
<line x1="588.6" y1="611.2" x2="591.0" y2="613.1" style="stroke:#000;stroke-width:.45"/>
<line x1="597.0" y1="606.4" x2="596.1" y2="611.3" style="stroke:#000;stroke-width:.45"/>
<line x1="591.2" y1="609.7" x2="595.5" y2="608.1" style="stroke:#000;stroke-width:.45"/>
<line x1="586.5" y1="612.4" x2="585.9" y2="617.6" style="stroke:#000;stroke-width:.45"/>
<line x1="594.8" y1="607.6" x2="592.9" y2="610.0" style="stroke:#000;stroke-width:.45"/>
<line x1="596.0" y1="607.0" x2="601.3" y2="606.1" style="stroke:#000;stroke-width:.45"/>
<line x1="581.1" y1="615.5" x2="582.9" y2="615.8" style="stroke:#000;stroke-width:.45"/>
<line x1="584.7" y1="613.4" x2="587.3" y2="613.9" style="stroke:#000;stroke-width:.45"/>
<line x1="595.4" y1="607.3" x2="598.5" y2="605.4" style="stroke:#000;stroke-width:.45"/>
<line x1="602.4" y1="603.3" x2="598.9" y2="603.8" style="stroke:#000;stroke-width:.45"/>
<line x1="601.2" y1="604.0" x2="602.9" y2="603.4" style="stroke:#000;stroke-width:.45"/>
<line x1="587.7" y1="611.7" x2="582.1" y2="607.9" style="stroke:#000;stroke-width:.45"/>
<line x1="582.9" y1="614.4" x2="581.7" y2="618.2" style="stroke:#000;stroke-width:.45"/>
<path d="M580.0,616.5 L588.0,612.0 L596.0,607.5 L603.0,603.5" class="s3"/>
<text x="635.6" y="564.9" class="t" text-anchor="middle">102</text>
<line x1="635.6" y1="566.5" x2="635.6" y2="582.0" class="sg"/>
<text x="0" y="0" transform="translate(755.9,647.3) rotate(-90)" text-anchor="middle" textLength="19" lengthAdjust="spacingAndGlyphs" style="font-family:&quot;Liberation Sans&quot;,sans-serif;font-size:5.6px;font-weight:bold;fill:#111">5781 086</text>
</svg></body></html>
